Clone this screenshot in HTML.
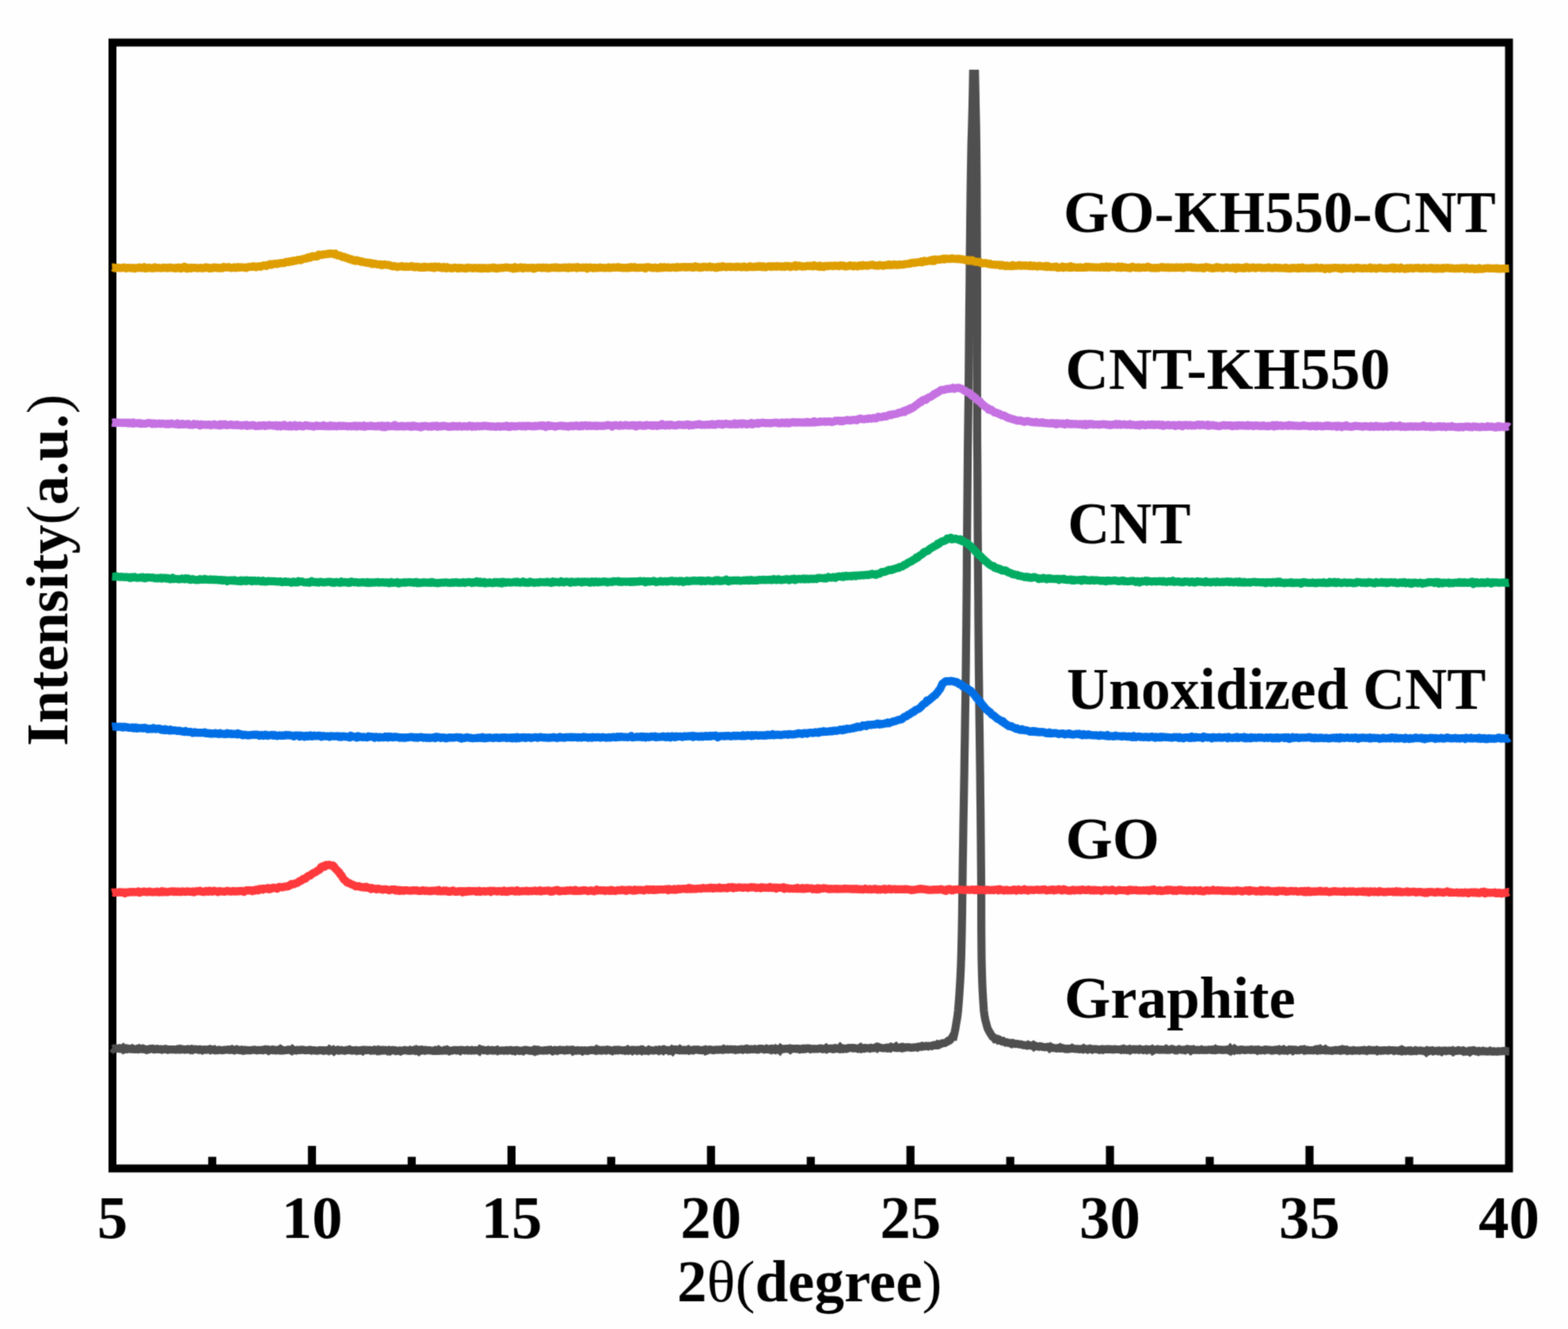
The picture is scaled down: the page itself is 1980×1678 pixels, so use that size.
<!DOCTYPE html>
<html><head><meta charset="utf-8"><title>XRD patterns</title>
<style>
html,body{margin:0;padding:0;background:#fefefe;}
body{width:1980px;height:1678px;overflow:hidden;}
svg{display:block;}
text{font-family:"Liberation Serif","Times New Roman",serif;font-weight:bold;fill:#000;}
.r{font-weight:normal;}
</style></head>
<body>
<svg width="1980" height="1678" viewBox="0 0 1980 1678">
<defs><filter id="sf" x="0" y="0" width="1980" height="1678" filterUnits="userSpaceOnUse" color-interpolation-filters="sRGB"><feConvolveMatrix order="3" kernelMatrix="0.0361 0.1178 0.0361 0.1178 0.3846 0.1178 0.0361 0.1178 0.0361" divisor="1" edgeMode="duplicate" preserveAlpha="true"/></filter></defs>
<g filter="url(#sf)">
<rect x="0" y="0" width="1980" height="1678" fill="#fefefe"/>
<rect x="142" y="53.7" width="1763.5" height="1421.6" fill="none" stroke="#000" stroke-width="10"/>
<g fill="none" stroke-width="10.2" stroke-linejoin="round" stroke-linecap="butt">
<path d="M141.5 1323.3L143.0 1324.5L144.5 1323.6L146.0 1323.8L147.5 1324.0L149.0 1323.7L150.5 1323.4L152.0 1324.3L153.5 1324.2L155.0 1323.2L156.5 1325.2L158.0 1324.6L159.5 1323.8L161.0 1324.6L162.5 1324.0L164.0 1324.2L165.5 1324.6L167.0 1323.7L168.5 1324.6L170.0 1324.9L171.5 1324.9L173.0 1324.2L174.5 1324.8L176.0 1323.7L177.5 1324.4L179.0 1324.7L180.5 1323.9L182.0 1324.5L183.5 1325.3L185.0 1325.7L186.5 1324.9L188.0 1325.0L189.5 1324.2L191.0 1324.1L192.5 1324.0L194.0 1324.9L195.5 1325.0L197.0 1324.4L198.5 1324.2L200.0 1324.9L201.5 1324.9L203.0 1324.7L204.5 1325.4L206.0 1324.8L207.5 1324.8L209.0 1324.4L210.5 1324.9L212.0 1325.5L213.5 1325.0L215.0 1325.0L216.5 1325.2L218.0 1325.1L219.5 1325.2L221.0 1325.3L222.5 1325.3L224.0 1324.7L225.5 1325.2L227.0 1324.4L228.5 1325.2L230.0 1324.6L231.5 1325.1L233.0 1325.4L234.5 1325.0L236.0 1325.2L237.5 1324.5L239.0 1324.8L240.5 1325.6L242.0 1324.7L243.5 1325.6L245.0 1324.7L246.5 1324.9L248.0 1324.8L249.5 1325.3L251.0 1325.6L252.5 1324.9L254.0 1325.3L255.5 1326.1L257.0 1325.3L258.5 1325.1L260.0 1325.6L261.5 1325.4L263.0 1325.1L264.5 1324.7L266.0 1325.9L267.5 1325.2L269.0 1325.5L270.5 1325.0L272.0 1326.1L273.5 1325.9L275.0 1326.0L276.5 1325.5L278.0 1325.8L279.5 1326.0L281.0 1326.1L282.5 1325.8L284.0 1325.6L285.5 1325.5L287.0 1325.3L288.5 1325.2L290.0 1325.8L291.5 1325.6L293.0 1324.8L294.5 1325.6L296.0 1326.2L297.5 1325.6L299.0 1324.9L300.5 1325.6L302.0 1326.1L303.5 1325.8L305.0 1325.5L306.5 1326.6L308.0 1326.6L309.5 1325.7L311.0 1326.1L312.5 1325.9L314.0 1326.1L315.5 1326.4L317.0 1326.1L318.5 1325.8L320.0 1325.5L321.5 1325.4L323.0 1325.8L324.5 1326.3L326.0 1325.9L327.5 1325.8L329.0 1325.9L330.5 1325.8L332.0 1326.1L333.5 1325.3L335.0 1324.9L336.5 1325.6L338.0 1325.3L339.5 1326.6L341.0 1325.8L342.5 1325.7L344.0 1325.2L345.5 1326.0L347.0 1325.6L348.5 1326.4L350.0 1326.3L351.5 1325.5L353.0 1326.1L354.5 1324.7L356.0 1325.6L357.5 1326.5L359.0 1326.3L360.5 1326.0L362.0 1325.9L363.5 1325.3L365.0 1325.3L366.5 1326.0L368.0 1326.7L369.5 1325.0L371.0 1326.2L372.5 1326.2L374.0 1326.4L375.5 1325.6L377.0 1325.7L378.5 1326.0L380.0 1325.5L381.5 1325.4L383.0 1325.6L384.5 1326.0L386.0 1326.2L387.5 1326.0L389.0 1326.0L390.5 1325.7L392.0 1325.7L393.5 1326.5L395.0 1326.0L396.5 1326.0L398.0 1326.4L399.5 1326.6L401.0 1326.6L402.5 1326.2L404.0 1326.0L405.5 1326.2L407.0 1326.1L408.5 1326.7L410.0 1326.2L411.5 1326.4L413.0 1326.1L414.5 1326.7L416.0 1325.2L417.5 1326.3L419.0 1326.4L420.5 1325.6L422.0 1327.1L423.5 1326.0L425.0 1326.0L426.5 1325.6L428.0 1326.5L429.5 1326.2L431.0 1325.8L432.5 1326.2L434.0 1326.4L435.5 1326.7L437.0 1326.2L438.5 1325.7L440.0 1325.9L441.5 1325.1L443.0 1325.8L444.5 1326.5L446.0 1326.4L447.5 1326.1L449.0 1326.0L450.5 1326.9L452.0 1326.3L453.5 1326.6L455.0 1326.3L456.5 1325.9L458.0 1326.9L459.5 1325.6L461.0 1325.6L462.5 1326.0L464.0 1325.9L465.5 1325.9L467.0 1325.9L468.5 1326.6L470.0 1326.2L471.5 1326.4L473.0 1325.5L474.5 1325.8L476.0 1326.7L477.5 1325.7L479.0 1326.7L480.5 1325.8L482.0 1326.4L483.5 1325.8L485.0 1326.3L486.5 1325.8L488.0 1326.1L489.5 1327.0L491.0 1326.1L492.5 1327.1L494.0 1326.0L495.5 1325.7L497.0 1326.3L498.5 1326.1L500.0 1327.0L501.5 1326.6L503.0 1326.8L504.5 1326.5L506.0 1327.4L507.5 1326.6L509.0 1326.5L510.5 1325.9L512.0 1325.8L513.5 1326.3L515.0 1326.7L516.5 1326.8L518.0 1325.8L519.5 1326.5L521.0 1326.4L522.5 1325.8L524.0 1326.5L525.5 1325.3L527.0 1326.4L528.5 1327.4L530.0 1325.8L531.5 1326.3L533.0 1325.4L534.5 1325.9L536.0 1326.6L537.5 1325.8L539.0 1326.3L540.5 1326.1L542.0 1326.1L543.5 1326.4L545.0 1326.5L546.5 1326.8L548.0 1326.7L549.5 1326.0L551.0 1326.9L552.5 1326.9L554.0 1325.6L555.5 1326.6L557.0 1326.7L558.5 1326.7L560.0 1326.5L561.5 1325.7L563.0 1326.2L564.5 1325.4L566.0 1326.2L567.5 1327.2L569.0 1326.6L570.5 1326.7L572.0 1326.1L573.5 1325.8L575.0 1325.8L576.5 1326.4L578.0 1325.9L579.5 1326.0L581.0 1326.8L582.5 1325.6L584.0 1325.7L585.5 1326.1L587.0 1326.3L588.5 1326.2L590.0 1325.7L591.5 1326.4L593.0 1326.2L594.5 1326.5L596.0 1325.8L597.5 1326.4L599.0 1326.4L600.5 1326.0L602.0 1326.2L603.5 1326.0L605.0 1326.9L606.5 1324.9L608.0 1325.6L609.5 1325.5L611.0 1326.1L612.5 1326.0L614.0 1326.1L615.5 1326.6L617.0 1325.6L618.5 1325.9L620.0 1326.2L621.5 1325.8L623.0 1326.5L624.5 1326.4L626.0 1326.0L627.5 1325.5L629.0 1327.0L630.5 1326.5L632.0 1326.5L633.5 1326.3L635.0 1326.3L636.5 1326.7L638.0 1326.3L639.5 1326.0L641.0 1326.6L642.5 1326.3L644.0 1325.9L645.5 1325.9L647.0 1326.8L648.5 1326.6L650.0 1327.2L651.5 1326.0L653.0 1325.9L654.5 1326.5L656.0 1326.9L657.5 1326.5L659.0 1326.5L660.5 1327.1L662.0 1325.9L663.5 1325.7L665.0 1325.9L666.5 1326.1L668.0 1326.4L669.5 1326.7L671.0 1326.4L672.5 1326.9L674.0 1325.9L675.5 1327.1L677.0 1325.9L678.5 1326.8L680.0 1325.8L681.5 1326.4L683.0 1326.3L684.5 1326.5L686.0 1326.6L687.5 1326.2L689.0 1326.2L690.5 1326.4L692.0 1325.7L693.5 1325.9L695.0 1325.5L696.5 1326.2L698.0 1327.2L699.5 1326.6L701.0 1325.8L702.5 1325.9L704.0 1326.7L705.5 1326.0L707.0 1325.5L708.5 1325.8L710.0 1325.8L711.5 1325.8L713.0 1326.5L714.5 1326.3L716.0 1325.5L717.5 1326.0L719.0 1325.7L720.5 1325.7L722.0 1325.5L723.5 1327.0L725.0 1326.1L726.5 1326.5L728.0 1326.6L729.5 1326.0L731.0 1326.4L732.5 1326.4L734.0 1326.3L735.5 1327.2L737.0 1326.3L738.5 1326.1L740.0 1326.5L741.5 1327.0L743.0 1326.6L744.5 1326.0L746.0 1325.8L747.5 1325.8L749.0 1325.9L750.5 1326.3L752.0 1326.6L753.5 1325.1L755.0 1326.2L756.5 1325.7L758.0 1326.5L759.5 1326.6L761.0 1325.8L762.5 1326.0L764.0 1325.7L765.5 1326.3L767.0 1325.4L768.5 1325.6L770.0 1325.8L771.5 1326.7L773.0 1327.2L774.5 1326.1L776.0 1325.6L777.5 1326.2L779.0 1325.7L780.5 1326.3L782.0 1325.6L783.5 1326.0L785.0 1326.1L786.5 1326.4L788.0 1326.1L789.5 1326.7L791.0 1326.2L792.5 1325.3L794.0 1326.5L795.5 1326.0L797.0 1325.8L798.5 1326.8L800.0 1325.7L801.5 1326.1L803.0 1325.8L804.5 1326.7L806.0 1325.9L807.5 1326.2L809.0 1325.5L810.5 1326.7L812.0 1325.6L813.5 1326.5L815.0 1326.6L816.5 1326.6L818.0 1326.9L819.5 1325.5L821.0 1326.2L822.5 1326.1L824.0 1326.2L825.5 1326.5L827.0 1326.1L828.5 1325.6L830.0 1326.0L831.5 1326.7L833.0 1325.5L834.5 1326.0L836.0 1325.5L837.5 1326.5L839.0 1325.2L840.5 1325.8L842.0 1325.9L843.5 1326.0L845.0 1327.0L846.5 1326.6L848.0 1325.4L849.5 1326.9L851.0 1325.3L852.5 1325.0L854.0 1325.2L855.5 1325.9L857.0 1326.1L858.5 1324.8L860.0 1326.0L861.5 1325.7L863.0 1326.1L864.5 1325.6L866.0 1326.2L867.5 1326.0L869.0 1325.2L870.5 1326.4L872.0 1325.8L873.5 1326.0L875.0 1326.3L876.5 1325.3L878.0 1325.6L879.5 1325.3L881.0 1325.2L882.5 1325.8L884.0 1325.8L885.5 1326.2L887.0 1326.2L888.5 1325.6L890.0 1325.2L891.5 1327.0L893.0 1326.5L894.5 1325.5L896.0 1325.1L897.5 1325.3L899.0 1325.6L900.5 1326.0L902.0 1325.9L903.5 1325.6L905.0 1325.3L906.5 1325.5L908.0 1325.3L909.5 1325.4L911.0 1325.3L912.5 1325.6L914.0 1324.5L915.5 1325.2L917.0 1325.2L918.5 1324.8L920.0 1325.2L921.5 1324.8L923.0 1324.9L924.5 1325.1L926.0 1325.1L927.5 1324.9L929.0 1325.7L930.5 1325.3L932.0 1325.3L933.5 1325.2L935.0 1324.8L936.5 1324.7L938.0 1325.5L939.5 1324.9L941.0 1324.3L942.5 1324.0L944.0 1325.1L945.5 1324.7L947.0 1325.0L948.5 1324.7L950.0 1324.8L951.5 1324.9L953.0 1324.4L954.5 1324.9L956.0 1325.3L957.5 1325.2L959.0 1324.1L960.5 1324.2L962.0 1324.2L963.5 1324.7L965.0 1325.2L966.5 1324.9L968.0 1324.0L969.5 1324.8L971.0 1325.1L972.5 1324.5L974.0 1325.5L975.5 1324.4L977.0 1325.2L978.5 1325.7L980.0 1324.0L981.5 1324.5L983.0 1324.8L984.5 1326.0L986.0 1323.8L987.5 1324.8L989.0 1324.7L990.5 1324.3L992.0 1324.1L993.5 1324.2L995.0 1324.3L996.5 1323.9L998.0 1325.1L999.5 1323.9L1001.0 1324.2L1002.5 1324.1L1004.0 1324.2L1005.5 1324.4L1007.0 1324.0L1008.5 1324.2L1010.0 1325.1L1011.5 1324.8L1013.0 1324.1L1014.5 1324.7L1016.0 1323.9L1017.5 1324.3L1019.0 1323.6L1020.5 1323.7L1022.0 1323.8L1023.5 1324.7L1025.0 1324.3L1026.5 1324.4L1028.0 1324.2L1029.5 1324.3L1031.0 1324.3L1032.5 1324.4L1034.0 1324.1L1035.5 1323.6L1037.0 1323.7L1038.5 1324.6L1040.0 1324.6L1041.5 1324.2L1043.0 1323.2L1044.5 1324.7L1046.0 1324.1L1047.5 1323.9L1049.0 1323.9L1050.5 1323.7L1052.0 1324.7L1053.5 1324.6L1055.0 1323.4L1056.5 1323.8L1058.0 1324.0L1059.5 1324.4L1061.0 1322.7L1062.5 1324.2L1064.0 1324.5L1065.5 1323.6L1067.0 1323.7L1068.5 1324.3L1070.0 1323.9L1071.5 1323.1L1073.0 1323.1L1074.5 1323.2L1076.0 1323.0L1077.5 1323.6L1079.0 1323.3L1080.5 1323.6L1082.0 1323.9L1083.5 1324.3L1085.0 1323.6L1086.5 1322.6L1088.0 1324.1L1089.5 1323.4L1091.0 1323.9L1092.5 1323.2L1094.0 1323.5L1095.5 1323.3L1097.0 1323.3L1098.5 1323.9L1100.0 1323.0L1101.5 1323.3L1103.0 1323.3L1104.5 1323.0L1106.0 1322.2L1107.5 1323.3L1109.0 1321.9L1110.5 1322.5L1112.0 1322.9L1113.5 1323.3L1115.0 1323.4L1116.5 1323.4L1118.0 1323.3L1119.5 1322.8L1121.0 1323.5L1122.5 1322.8L1124.0 1323.4L1125.5 1321.9L1127.0 1322.4L1128.5 1322.5L1130.0 1322.8L1131.5 1321.6L1133.0 1323.1L1134.5 1323.1L1136.0 1323.0L1137.5 1322.3L1139.0 1323.2L1140.5 1322.2L1142.0 1322.9L1143.5 1322.4L1145.0 1322.4L1146.5 1322.2L1148.0 1322.3L1149.5 1322.7L1151.0 1322.8L1152.5 1322.7L1154.0 1322.4L1155.5 1322.3L1157.0 1322.1L1158.5 1322.6L1160.0 1321.5L1161.5 1321.4L1163.0 1321.6L1164.5 1320.7L1166.0 1321.3L1167.5 1321.2L1169.0 1320.7L1170.5 1320.7L1172.0 1321.2L1173.5 1320.6L1175.0 1320.6L1176.5 1320.9L1178.0 1320.0L1179.5 1319.5L1181.0 1319.8L1182.5 1319.8L1184.0 1318.5L1185.5 1319.2L1187.0 1318.4L1188.5 1317.9L1190.0 1317.2L1191.5 1317.0L1193.0 1316.9L1194.5 1316.1L1196.0 1315.5L1197.5 1314.0L1199.0 1313.7L1200.5 1312.3L1202.0 1310.4L1203.5 1307.7L1204.4 1308.0L1204.9 1305.8L1205.4 1303.7L1205.8 1301.5L1206.3 1299.4L1206.7 1297.2L1207.0 1295.0L1207.4 1292.9L1207.8 1290.7L1208.1 1288.6L1208.5 1286.4L1208.8 1284.2L1209.1 1282.1L1209.4 1279.9L1209.6 1277.8L1209.9 1275.6L1210.0 1273.4L1210.2 1271.3L1210.4 1269.1L1210.6 1267.0L1210.7 1264.8L1210.9 1262.6L1211.1 1260.5L1211.2 1258.3L1211.4 1256.2L1211.5 1254.0L1211.7 1251.8L1211.8 1249.7L1211.9 1247.5L1212.1 1245.4L1212.2 1243.2L1212.3 1241.0L1212.5 1238.9L1212.6 1236.7L1212.7 1234.6L1212.8 1232.4L1212.9 1230.2L1213.0 1228.1L1213.1 1225.9L1213.2 1223.8L1213.3 1221.6L1213.4 1219.4L1213.5 1217.3L1213.5 1215.1L1213.6 1213.0L1213.7 1210.8L1213.8 1208.6L1213.8 1206.5L1213.9 1204.3L1213.9 1202.2L1214.0 1200.0L1214.5 1177.4L1214.9 1154.8L1215.2 1132.2L1215.5 1109.6L1215.8 1087.0L1216.2 1064.4L1216.5 1041.9L1216.9 1019.3L1217.3 996.7L1217.7 974.1L1218.0 951.5L1218.4 928.9L1218.7 906.3L1219.1 883.7L1219.4 861.1L1219.7 838.5L1219.9 815.9L1220.2 793.3L1220.4 770.8L1220.6 748.2L1220.8 725.6L1220.9 703.0L1221.1 680.4L1221.3 657.8L1221.5 635.2L1221.7 612.6L1221.9 590.0L1222.1 567.4L1222.4 544.8L1222.7 522.2L1223.0 499.7L1223.2 477.1L1223.4 454.5L1223.6 431.9L1223.8 409.3L1224.0 386.7L1224.3 364.1L1224.5 341.5L1224.7 318.9L1225.0 296.3L1225.2 273.7L1225.5 251.1L1225.8 228.6L1226.2 206.0L1226.6 183.4L1227.3 160.8L1227.9 138.2L1228.4 115.6L1228.8 93.0L1231.2 93.0L1231.7 115.1L1232.1 137.3L1232.6 159.4L1232.9 181.6L1233.1 203.7L1233.3 225.8L1233.4 248.0L1233.5 270.1L1233.6 292.3L1233.7 314.4L1233.8 336.5L1233.9 358.7L1233.9 380.8L1233.9 403.0L1233.9 425.1L1233.8 447.2L1233.8 469.4L1233.8 491.5L1233.9 513.7L1233.9 535.8L1234.0 557.9L1234.2 580.1L1234.3 602.2L1234.4 624.4L1234.5 646.5L1234.6 668.6L1234.8 690.8L1234.9 712.9L1235.1 735.1L1235.3 757.2L1235.4 779.3L1235.6 801.5L1235.8 823.6L1236.0 845.8L1236.3 867.9L1236.5 890.0L1236.8 912.2L1237.1 934.3L1237.4 956.5L1237.7 978.6L1237.9 1000.7L1238.2 1022.9L1238.4 1045.0L1238.6 1067.2L1238.8 1089.3L1239.0 1111.4L1239.1 1133.6L1239.1 1155.7L1239.2 1177.9L1239.4 1200.0L1239.4 1202.2L1239.4 1204.4L1239.5 1206.7L1239.5 1208.9L1239.5 1211.1L1239.6 1213.3L1239.6 1215.6L1239.7 1217.8L1239.7 1220.0L1239.8 1222.2L1239.8 1224.5L1239.9 1226.7L1240.0 1228.9L1240.0 1231.1L1240.1 1233.4L1240.2 1235.6L1240.2 1237.8L1240.3 1240.0L1240.4 1242.3L1240.5 1244.5L1240.6 1246.7L1240.7 1248.9L1240.8 1251.2L1240.9 1253.4L1241.1 1255.6L1241.2 1257.8L1241.3 1260.1L1241.4 1262.3L1241.6 1264.5L1241.7 1266.7L1241.9 1269.0L1242.0 1271.2L1242.2 1273.4L1242.3 1275.6L1242.6 1277.9L1242.9 1280.1L1243.2 1282.3L1243.6 1284.5L1244.0 1286.8L1244.5 1289.0L1245.1 1291.2L1245.7 1293.4L1246.3 1295.7L1247.0 1297.9L1247.9 1300.1L1249.1 1302.3L1250.4 1304.6L1251.8 1306.8L1253.3 1309.0L1254.8 1309.8L1256.3 1311.8L1257.8 1311.3L1259.3 1311.6L1260.8 1313.5L1262.3 1313.1L1263.8 1314.2L1265.3 1314.9L1266.8 1314.4L1268.3 1315.5L1269.8 1316.3L1271.3 1316.0L1272.8 1316.7L1274.3 1316.7L1275.8 1317.4L1277.3 1318.1L1278.8 1317.0L1280.3 1317.6L1281.8 1318.1L1283.3 1317.8L1284.8 1318.0L1286.3 1318.4L1287.8 1318.6L1289.3 1318.6L1290.8 1319.2L1292.3 1319.6L1293.8 1319.7L1295.3 1319.8L1296.8 1320.2L1298.3 1319.2L1299.8 1319.9L1301.3 1320.2L1302.8 1320.5L1304.3 1319.7L1305.8 1321.4L1307.3 1320.3L1308.8 1321.0L1310.3 1321.4L1311.8 1321.7L1313.3 1321.0L1314.8 1321.2L1316.3 1321.8L1317.8 1322.0L1319.3 1322.3L1320.8 1322.0L1322.3 1321.9L1323.8 1321.7L1325.3 1323.2L1326.8 1321.9L1328.3 1323.0L1329.8 1322.9L1331.3 1323.3L1332.8 1323.5L1334.3 1323.8L1335.8 1323.3L1337.3 1323.6L1338.8 1322.6L1340.3 1323.6L1341.8 1323.3L1343.3 1323.7L1344.8 1324.4L1346.3 1324.0L1347.8 1324.5L1349.3 1324.0L1350.8 1324.3L1352.3 1324.0L1353.8 1323.1L1355.3 1324.0L1356.8 1324.2L1358.3 1324.4L1359.8 1324.4L1361.3 1324.4L1362.8 1324.9L1364.3 1324.7L1365.8 1324.3L1367.3 1324.9L1368.8 1323.6L1370.3 1324.4L1371.8 1324.5L1373.3 1325.2L1374.8 1324.4L1376.3 1324.0L1377.8 1324.7L1379.3 1325.4L1380.8 1324.6L1382.3 1324.6L1383.8 1324.6L1385.3 1324.7L1386.8 1325.3L1388.3 1325.6L1389.8 1325.0L1391.3 1324.7L1392.8 1325.6L1394.3 1324.9L1395.8 1324.9L1397.3 1324.7L1398.8 1324.7L1400.3 1325.0L1401.8 1324.7L1403.3 1325.1L1404.8 1324.9L1406.3 1325.2L1407.8 1324.7L1409.3 1324.8L1410.8 1325.0L1412.3 1325.0L1413.8 1325.0L1415.3 1325.5L1416.8 1324.5L1418.3 1324.1L1419.8 1325.3L1421.3 1324.9L1422.8 1325.6L1424.3 1325.0L1425.8 1324.5L1427.3 1326.0L1428.8 1325.2L1430.3 1324.9L1431.8 1324.7L1433.3 1325.3L1434.8 1324.8L1436.3 1325.3L1437.8 1325.6L1439.3 1324.5L1440.8 1324.9L1442.3 1325.3L1443.8 1325.9L1445.3 1325.5L1446.8 1324.9L1448.3 1325.8L1449.8 1325.0L1451.3 1325.1L1452.8 1325.3L1454.3 1324.7L1455.8 1326.6L1457.3 1325.7L1458.8 1325.3L1460.3 1325.0L1461.8 1324.7L1463.3 1325.4L1464.8 1325.5L1466.3 1325.1L1467.8 1325.2L1469.3 1325.5L1470.8 1325.2L1472.3 1324.4L1473.8 1325.6L1475.3 1325.4L1476.8 1325.6L1478.3 1325.0L1479.8 1324.3L1481.3 1324.7L1482.8 1325.5L1484.3 1326.3L1485.8 1326.4L1487.3 1325.5L1488.8 1324.7L1490.3 1325.2L1491.8 1325.6L1493.3 1325.6L1494.8 1325.4L1496.3 1326.0L1497.8 1325.0L1499.3 1324.4L1500.8 1325.0L1502.3 1324.9L1503.8 1326.4L1505.3 1325.3L1506.8 1324.8L1508.3 1325.7L1509.8 1325.9L1511.3 1325.5L1512.8 1325.5L1514.3 1325.9L1515.8 1325.7L1517.3 1325.1L1518.8 1325.7L1520.3 1325.9L1521.8 1325.6L1523.3 1325.9L1524.8 1325.8L1526.3 1325.4L1527.8 1325.4L1529.3 1325.8L1530.8 1325.3L1532.3 1326.0L1533.8 1326.1L1535.3 1324.6L1536.8 1325.5L1538.3 1325.2L1539.8 1325.3L1541.3 1325.6L1542.8 1325.5L1544.3 1325.8L1545.8 1325.7L1547.3 1325.7L1548.8 1325.2L1550.3 1325.4L1551.8 1326.2L1553.3 1324.5L1554.8 1326.4L1556.3 1325.3L1557.8 1326.1L1559.3 1324.4L1560.8 1325.4L1562.3 1326.0L1563.8 1325.7L1565.3 1326.1L1566.8 1325.2L1568.3 1325.4L1569.8 1325.3L1571.3 1325.9L1572.8 1325.9L1574.3 1325.6L1575.8 1325.5L1577.3 1325.5L1578.8 1325.7L1580.3 1325.2L1581.8 1325.7L1583.3 1325.6L1584.8 1325.4L1586.3 1325.4L1587.8 1326.4L1589.3 1325.4L1590.8 1325.9L1592.3 1326.3L1593.8 1326.1L1595.3 1325.7L1596.8 1326.2L1598.3 1325.1L1599.8 1325.2L1601.3 1325.6L1602.8 1325.6L1604.3 1325.7L1605.8 1326.6L1607.3 1326.5L1608.8 1325.7L1610.3 1325.9L1611.8 1325.4L1613.3 1325.9L1614.8 1325.2L1616.3 1326.4L1617.8 1325.6L1619.3 1326.0L1620.8 1325.2L1622.3 1326.4L1623.8 1326.1L1625.3 1326.7L1626.8 1325.9L1628.3 1325.1L1629.8 1325.5L1631.3 1325.3L1632.8 1326.6L1634.3 1325.6L1635.8 1325.5L1637.3 1326.1L1638.8 1326.0L1640.3 1326.1L1641.8 1325.6L1643.3 1325.0L1644.8 1325.3L1646.3 1324.9L1647.8 1326.5L1649.3 1326.3L1650.8 1325.7L1652.3 1326.2L1653.8 1326.2L1655.3 1326.2L1656.8 1326.2L1658.3 1326.3L1659.8 1326.0L1661.3 1324.9L1662.8 1324.7L1664.3 1326.5L1665.8 1326.2L1667.3 1324.8L1668.8 1326.0L1670.3 1325.6L1671.8 1325.7L1673.3 1324.8L1674.8 1326.3L1676.3 1326.0L1677.8 1326.4L1679.3 1326.5L1680.8 1326.6L1682.3 1326.8L1683.8 1326.2L1685.3 1326.1L1686.8 1325.8L1688.3 1326.3L1689.8 1325.9L1691.3 1325.5L1692.8 1326.6L1694.3 1326.4L1695.8 1324.9L1697.3 1325.2L1698.8 1326.0L1700.3 1325.5L1701.8 1326.7L1703.3 1326.2L1704.8 1326.4L1706.3 1326.6L1707.8 1326.7L1709.3 1326.0L1710.8 1326.4L1712.3 1326.3L1713.8 1326.5L1715.3 1326.4L1716.8 1326.8L1718.3 1326.4L1719.8 1326.0L1721.3 1326.3L1722.8 1325.7L1724.3 1326.4L1725.8 1326.9L1727.3 1326.0L1728.8 1325.5L1730.3 1326.2L1731.8 1326.0L1733.3 1326.3L1734.8 1326.0L1736.3 1326.3L1737.8 1325.8L1739.3 1327.0L1740.8 1326.2L1742.3 1326.5L1743.8 1326.7L1745.3 1326.3L1746.8 1326.5L1748.3 1326.2L1749.8 1326.2L1751.3 1326.3L1752.8 1326.6L1754.3 1325.8L1755.8 1326.0L1757.3 1326.0L1758.8 1326.1L1760.3 1326.9L1761.8 1326.4L1763.3 1326.3L1764.8 1326.5L1766.3 1326.9L1767.8 1326.1L1769.3 1326.9L1770.8 1325.4L1772.3 1326.1L1773.8 1327.2L1775.3 1327.2L1776.8 1326.6L1778.3 1326.3L1779.8 1326.9L1781.3 1326.3L1782.8 1327.2L1784.3 1327.1L1785.8 1326.9L1787.3 1326.2L1788.8 1327.0L1790.3 1326.5L1791.8 1326.5L1793.3 1326.4L1794.8 1326.6L1796.3 1326.9L1797.8 1327.0L1799.3 1327.0L1800.8 1328.2L1802.3 1326.5L1803.8 1327.2L1805.3 1326.4L1806.8 1326.6L1808.3 1326.2L1809.8 1327.3L1811.3 1326.8L1812.8 1326.8L1814.3 1326.7L1815.8 1327.2L1817.3 1326.5L1818.8 1327.0L1820.3 1327.9L1821.8 1326.7L1823.3 1326.5L1824.8 1326.4L1826.3 1327.2L1827.8 1326.9L1829.3 1326.5L1830.8 1326.5L1832.3 1326.9L1833.8 1326.4L1835.3 1327.8L1836.8 1326.8L1838.3 1326.8L1839.8 1326.9L1841.3 1326.1L1842.8 1326.3L1844.3 1326.8L1845.8 1326.9L1847.3 1326.4L1848.8 1327.7L1850.3 1327.2L1851.8 1327.6L1853.3 1327.5L1854.8 1326.9L1856.3 1328.1L1857.8 1327.1L1859.3 1326.2L1860.8 1326.0L1862.3 1327.0L1863.8 1327.5L1865.3 1327.1L1866.8 1327.9L1868.3 1327.0L1869.8 1327.4L1871.3 1327.4L1872.8 1326.7L1874.3 1327.3L1875.8 1327.3L1877.3 1327.6L1878.8 1327.7L1880.3 1327.6L1881.8 1326.8L1883.3 1327.5L1884.8 1327.7L1886.3 1327.2L1887.8 1327.6L1889.3 1327.6L1890.8 1327.8L1892.3 1327.3L1893.8 1327.5L1895.3 1327.4L1896.8 1327.3L1898.3 1327.0L1899.8 1327.1L1901.3 1326.8L1902.8 1327.2L1904.3 1327.6L1905.8 1327.6" stroke="#4f4f4f" stroke-linejoin="miter"/>
<path d="M141.5 1127.1L143.0 1126.7L144.5 1127.3L146.0 1126.5L147.5 1127.0L149.0 1126.8L150.5 1126.3L152.0 1126.3L153.5 1126.9L155.0 1126.6L156.5 1126.7L158.0 1127.9L159.5 1126.8L161.0 1126.5L162.5 1126.8L164.0 1126.2L165.5 1126.3L167.0 1126.6L168.5 1126.0L170.0 1126.4L171.5 1126.3L173.0 1126.4L174.5 1125.5L176.0 1127.1L177.5 1126.2L179.0 1126.5L180.5 1125.8L182.0 1125.6L183.5 1126.2L185.0 1126.1L186.5 1126.5L188.0 1125.7L189.5 1125.7L191.0 1126.3L192.5 1126.4L194.0 1126.5L195.5 1126.1L197.0 1126.2L198.5 1125.7L200.0 1126.6L201.5 1126.5L203.0 1126.5L204.5 1125.3L206.0 1126.4L207.5 1125.6L209.0 1126.2L210.5 1126.1L212.0 1126.5L213.5 1125.8L215.0 1125.7L216.5 1125.4L218.0 1125.3L219.5 1126.1L221.0 1125.4L222.5 1126.1L224.0 1125.7L225.5 1125.6L227.0 1126.2L228.5 1126.2L230.0 1125.4L231.5 1125.7L233.0 1125.8L234.5 1126.1L236.0 1125.4L237.5 1125.6L239.0 1125.7L240.5 1126.0L242.0 1126.1L243.5 1125.5L245.0 1126.5L246.5 1125.9L248.0 1125.3L249.5 1125.0L251.0 1125.4L252.5 1124.6L254.0 1125.7L255.5 1125.9L257.0 1126.2L258.5 1125.8L260.0 1124.8L261.5 1125.5L263.0 1125.9L264.5 1124.6L266.0 1125.2L267.5 1125.8L269.0 1125.6L270.5 1124.6L272.0 1125.3L273.5 1125.5L275.0 1126.4L276.5 1125.3L278.0 1125.0L279.5 1125.5L281.0 1125.6L282.5 1125.6L284.0 1126.0L285.5 1125.3L287.0 1124.7L288.5 1125.3L290.0 1125.3L291.5 1125.7L293.0 1125.6L294.5 1124.9L296.0 1125.5L297.5 1125.6L299.0 1125.1L300.5 1125.5L302.0 1125.2L303.5 1125.1L305.0 1124.9L306.5 1125.3L308.0 1126.1L309.5 1124.8L311.0 1124.1L312.5 1124.4L314.0 1124.1L315.5 1124.4L317.0 1124.1L318.5 1125.2L320.0 1124.2L321.5 1124.6L323.0 1123.3L324.5 1123.3L326.0 1124.2L327.5 1122.4L329.0 1123.0L330.5 1122.1L332.0 1123.3L333.5 1121.9L335.0 1122.2L336.5 1122.1L338.0 1121.3L339.5 1123.0L341.0 1121.7L342.5 1122.3L344.0 1121.1L345.5 1120.6L347.0 1121.3L348.5 1121.1L350.0 1122.2L351.5 1120.2L353.0 1119.8L354.5 1120.0L356.0 1120.3L357.5 1120.2L359.0 1119.4L360.5 1119.3L362.0 1119.4L363.5 1119.2L365.0 1118.0L366.5 1117.9L368.0 1116.1L369.5 1116.3L371.0 1116.4L372.5 1115.6L374.0 1114.9L375.5 1115.0L377.0 1113.5L378.5 1112.3L380.0 1112.1L381.5 1111.2L383.0 1109.7L384.5 1109.8L386.0 1109.2L387.5 1107.3L389.0 1106.2L390.5 1105.7L392.0 1105.4L393.5 1103.7L395.0 1102.7L396.5 1101.9L398.0 1101.4L399.5 1100.5L401.0 1099.3L402.5 1098.7L404.0 1097.6L405.5 1094.7L407.0 1094.2L408.5 1093.3L410.0 1094.2L411.5 1092.1L413.0 1092.2L414.5 1092.4L416.0 1091.8L417.5 1092.5L419.0 1093.3L420.5 1092.7L422.0 1094.3L423.5 1096.9L425.0 1098.0L426.5 1099.9L428.0 1100.9L429.5 1103.8L431.0 1105.0L432.5 1107.7L434.0 1110.0L435.5 1111.4L437.0 1112.5L438.5 1114.5L440.0 1114.8L441.5 1115.2L443.0 1116.1L444.5 1117.0L446.0 1117.2L447.5 1118.0L449.0 1119.1L450.5 1118.8L452.0 1119.2L453.5 1118.9L455.0 1120.0L456.5 1119.9L458.0 1120.5L459.5 1119.9L461.0 1120.6L462.5 1119.7L464.0 1120.8L465.5 1120.9L467.0 1121.0L468.5 1122.4L470.0 1121.2L471.5 1122.0L473.0 1122.1L474.5 1122.6L476.0 1123.0L477.5 1121.9L479.0 1122.5L480.5 1122.5L482.0 1123.2L483.5 1123.4L485.0 1122.9L486.5 1122.9L488.0 1122.8L489.5 1123.5L491.0 1124.1L492.5 1123.6L494.0 1123.2L495.5 1123.2L497.0 1123.3L498.5 1122.9L500.0 1124.5L501.5 1123.8L503.0 1123.7L504.5 1124.9L506.0 1124.0L507.5 1124.7L509.0 1124.1L510.5 1124.6L512.0 1124.1L513.5 1124.0L515.0 1124.4L516.5 1124.5L518.0 1124.7L519.5 1124.4L521.0 1124.2L522.5 1124.2L524.0 1124.5L525.5 1124.2L527.0 1124.3L528.5 1124.8L530.0 1124.8L531.5 1124.8L533.0 1124.3L534.5 1124.0L536.0 1124.8L537.5 1124.8L539.0 1124.6L540.5 1124.9L542.0 1125.2L543.5 1124.8L545.0 1125.1L546.5 1124.5L548.0 1124.8L549.5 1124.6L551.0 1124.3L552.5 1125.2L554.0 1123.8L555.5 1125.1L557.0 1125.5L558.5 1125.3L560.0 1124.5L561.5 1125.3L563.0 1124.4L564.5 1124.8L566.0 1125.9L567.5 1125.3L569.0 1125.8L570.5 1124.8L572.0 1124.3L573.5 1124.9L575.0 1125.9L576.5 1125.7L578.0 1125.8L579.5 1125.2L581.0 1125.3L582.5 1125.2L584.0 1126.6L585.5 1125.3L587.0 1126.1L588.5 1125.2L590.0 1125.9L591.5 1124.8L593.0 1125.1L594.5 1125.5L596.0 1125.0L597.5 1125.1L599.0 1125.2L600.5 1125.0L602.0 1126.0L603.5 1125.8L605.0 1124.7L606.5 1126.1L608.0 1125.3L609.5 1125.3L611.0 1125.2L612.5 1125.7L614.0 1125.6L615.5 1125.0L617.0 1125.3L618.5 1124.7L620.0 1126.1L621.5 1124.9L623.0 1124.8L624.5 1124.9L626.0 1125.3L627.5 1125.6L629.0 1125.1L630.5 1125.2L632.0 1125.1L633.5 1125.8L635.0 1125.3L636.5 1124.4L638.0 1125.9L639.5 1125.3L641.0 1126.0L642.5 1124.9L644.0 1124.9L645.5 1125.1L647.0 1124.5L648.5 1125.0L650.0 1125.7L651.5 1125.4L653.0 1124.0L654.5 1125.7L656.0 1125.3L657.5 1125.5L659.0 1125.1L660.5 1125.2L662.0 1125.1L663.5 1125.1L665.0 1124.6L666.5 1125.5L668.0 1125.1L669.5 1125.2L671.0 1125.2L672.5 1124.9L674.0 1125.0L675.5 1124.4L677.0 1125.1L678.5 1125.1L680.0 1124.9L681.5 1124.2L683.0 1125.5L684.5 1124.9L686.0 1124.9L687.5 1124.8L689.0 1124.6L690.5 1124.7L692.0 1124.4L693.5 1124.6L695.0 1125.8L696.5 1125.4L698.0 1125.7L699.5 1124.6L701.0 1124.0L702.5 1124.2L704.0 1123.6L705.5 1125.3L707.0 1125.3L708.5 1124.8L710.0 1124.9L711.5 1124.9L713.0 1124.7L714.5 1125.0L716.0 1124.2L717.5 1124.5L719.0 1124.6L720.5 1123.9L722.0 1124.2L723.5 1124.8L725.0 1124.8L726.5 1123.5L728.0 1125.0L729.5 1124.7L731.0 1124.9L732.5 1124.5L734.0 1124.8L735.5 1124.0L737.0 1124.4L738.5 1124.0L740.0 1124.3L741.5 1125.0L743.0 1125.2L744.5 1124.5L746.0 1124.2L747.5 1124.8L749.0 1124.6L750.5 1125.3L752.0 1124.7L753.5 1123.3L755.0 1124.4L756.5 1124.2L758.0 1124.0L759.5 1124.4L761.0 1124.3L762.5 1124.1L764.0 1125.0L765.5 1124.4L767.0 1124.4L768.5 1124.3L770.0 1124.8L771.5 1123.7L773.0 1124.7L774.5 1124.1L776.0 1124.8L777.5 1124.8L779.0 1124.4L780.5 1123.9L782.0 1124.2L783.5 1124.2L785.0 1123.4L786.5 1123.9L788.0 1123.7L789.5 1124.6L791.0 1124.8L792.5 1123.7L794.0 1123.7L795.5 1123.4L797.0 1124.1L798.5 1124.3L800.0 1124.7L801.5 1123.3L803.0 1124.3L804.5 1123.8L806.0 1123.5L807.5 1123.7L809.0 1123.5L810.5 1124.0L812.0 1123.8L813.5 1124.3L815.0 1123.5L816.5 1122.8L818.0 1123.2L819.5 1123.8L821.0 1122.9L822.5 1123.2L824.0 1123.8L825.5 1122.9L827.0 1123.8L828.5 1123.6L830.0 1123.1L831.5 1123.3L833.0 1123.1L834.5 1123.1L836.0 1123.1L837.5 1123.2L839.0 1123.1L840.5 1122.8L842.0 1122.6L843.5 1123.9L845.0 1122.5L846.5 1122.9L848.0 1123.4L849.5 1123.3L851.0 1122.5L852.5 1123.7L854.0 1123.5L855.5 1122.5L857.0 1122.1L858.5 1122.9L860.0 1122.4L861.5 1122.4L863.0 1122.1L864.5 1122.1L866.0 1122.4L867.5 1122.7L869.0 1121.3L870.5 1121.1L872.0 1122.6L873.5 1121.7L875.0 1122.4L876.5 1122.1L878.0 1122.5L879.5 1122.3L881.0 1121.8L882.5 1121.8L884.0 1121.9L885.5 1122.1L887.0 1121.4L888.5 1121.0L890.0 1121.7L891.5 1121.6L893.0 1121.5L894.5 1121.1L896.0 1121.7L897.5 1120.6L899.0 1121.2L900.5 1121.9L902.0 1120.8L903.5 1121.5L905.0 1121.4L906.5 1121.4L908.0 1120.4L909.5 1121.6L911.0 1121.2L912.5 1121.3L914.0 1121.2L915.5 1121.0L917.0 1121.5L918.5 1121.6L920.0 1120.1L921.5 1120.5L923.0 1120.8L924.5 1119.9L926.0 1121.5L927.5 1120.4L929.0 1121.0L930.5 1120.8L932.0 1120.6L933.5 1120.3L935.0 1120.5L936.5 1120.7L938.0 1121.0L939.5 1120.6L941.0 1120.5L942.5 1120.5L944.0 1121.2L945.5 1120.8L947.0 1120.3L948.5 1120.1L950.0 1120.4L951.5 1120.2L953.0 1120.4L954.5 1121.2L956.0 1120.9L957.5 1120.8L959.0 1120.8L960.5 1121.5L962.0 1120.2L963.5 1120.9L965.0 1120.6L966.5 1120.8L968.0 1120.8L969.5 1120.7L971.0 1121.1L972.5 1119.9L974.0 1121.0L975.5 1121.2L977.0 1120.5L978.5 1120.6L980.0 1121.9L981.5 1120.7L983.0 1120.9L984.5 1120.8L986.0 1120.9L987.5 1120.9L989.0 1120.3L990.5 1122.4L992.0 1121.0L993.5 1121.5L995.0 1121.4L996.5 1122.1L998.0 1121.8L999.5 1122.0L1001.0 1122.1L1002.5 1122.0L1004.0 1121.6L1005.5 1122.1L1007.0 1121.0L1008.5 1122.1L1010.0 1122.1L1011.5 1121.9L1013.0 1121.2L1014.5 1122.4L1016.0 1121.6L1017.5 1122.2L1019.0 1121.1L1020.5 1121.8L1022.0 1121.6L1023.5 1121.6L1025.0 1121.7L1026.5 1122.8L1028.0 1122.0L1029.5 1122.2L1031.0 1123.0L1032.5 1121.4L1034.0 1122.8L1035.5 1121.9L1037.0 1121.8L1038.5 1121.9L1040.0 1121.3L1041.5 1121.5L1043.0 1121.7L1044.5 1121.9L1046.0 1122.5L1047.5 1122.7L1049.0 1122.1L1050.5 1122.4L1052.0 1122.5L1053.5 1122.2L1055.0 1122.4L1056.5 1122.1L1058.0 1122.6L1059.5 1122.3L1061.0 1122.4L1062.5 1122.5L1064.0 1122.5L1065.5 1122.1L1067.0 1121.8L1068.5 1122.4L1070.0 1122.2L1071.5 1122.2L1073.0 1122.4L1074.5 1122.2L1076.0 1122.7L1077.5 1122.7L1079.0 1122.1L1080.5 1122.7L1082.0 1122.2L1083.5 1122.9L1085.0 1122.9L1086.5 1122.6L1088.0 1123.0L1089.5 1123.1L1091.0 1122.9L1092.5 1121.9L1094.0 1122.7L1095.5 1122.8L1097.0 1123.1L1098.5 1122.3L1100.0 1123.1L1101.5 1122.9L1103.0 1122.9L1104.5 1122.2L1106.0 1122.4L1107.5 1123.3L1109.0 1123.2L1110.5 1122.8L1112.0 1123.3L1113.5 1123.0L1115.0 1122.7L1116.5 1122.2L1118.0 1123.3L1119.5 1122.8L1121.0 1123.0L1122.5 1122.1L1124.0 1122.7L1125.5 1123.1L1127.0 1122.8L1128.5 1122.6L1130.0 1122.5L1131.5 1123.1L1133.0 1122.8L1134.5 1122.9L1136.0 1122.9L1137.5 1122.7L1139.0 1122.9L1140.5 1122.8L1142.0 1123.1L1143.5 1122.5L1145.0 1122.6L1146.5 1123.1L1148.0 1123.0L1149.5 1123.2L1151.0 1124.0L1152.5 1123.5L1154.0 1123.6L1155.5 1123.3L1157.0 1123.1L1158.5 1122.8L1160.0 1122.4L1161.5 1122.6L1163.0 1122.2L1164.5 1122.7L1166.0 1122.5L1167.5 1122.8L1169.0 1123.2L1170.5 1123.1L1172.0 1123.6L1173.5 1123.7L1175.0 1123.7L1176.5 1123.7L1178.0 1123.4L1179.5 1123.1L1181.0 1123.5L1182.5 1123.2L1184.0 1123.2L1185.5 1123.5L1187.0 1122.8L1188.5 1122.6L1190.0 1123.5L1191.5 1124.1L1193.0 1123.9L1194.5 1125.0L1196.0 1122.8L1197.5 1123.1L1199.0 1122.4L1200.5 1123.0L1202.0 1124.3L1203.5 1124.1L1205.0 1123.0L1206.5 1123.3L1208.0 1123.1L1209.5 1122.8L1211.0 1123.3L1212.5 1123.3L1214.0 1123.5L1215.5 1123.6L1217.0 1123.8L1218.5 1124.1L1220.0 1123.5L1221.5 1123.4L1223.0 1123.5L1224.5 1123.7L1226.0 1123.5L1227.5 1123.1L1229.0 1123.3L1230.5 1123.9L1232.0 1123.1L1233.5 1123.9L1235.0 1122.9L1236.5 1123.8L1238.0 1123.8L1239.5 1123.5L1241.0 1123.6L1242.5 1123.5L1244.0 1124.3L1245.5 1123.4L1247.0 1123.3L1248.5 1123.8L1250.0 1124.1L1251.5 1123.8L1253.0 1123.5L1254.5 1124.1L1256.0 1123.3L1257.5 1123.3L1259.0 1123.1L1260.5 1124.2L1262.0 1122.6L1263.5 1123.1L1265.0 1123.8L1266.5 1123.8L1268.0 1124.4L1269.5 1123.8L1271.0 1123.4L1272.5 1124.3L1274.0 1124.1L1275.5 1124.2L1277.0 1124.2L1278.5 1123.9L1280.0 1123.0L1281.5 1123.2L1283.0 1124.6L1284.5 1123.7L1286.0 1122.9L1287.5 1123.7L1289.0 1124.1L1290.5 1123.9L1292.0 1123.7L1293.5 1122.7L1295.0 1123.8L1296.5 1123.7L1298.0 1124.5L1299.5 1123.7L1301.0 1123.7L1302.5 1123.5L1304.0 1123.7L1305.5 1123.9L1307.0 1123.5L1308.5 1123.4L1310.0 1123.2L1311.5 1123.8L1313.0 1123.6L1314.5 1123.6L1316.0 1123.1L1317.5 1123.4L1319.0 1122.9L1320.5 1124.2L1322.0 1124.3L1323.5 1124.0L1325.0 1123.7L1326.5 1124.0L1328.0 1123.1L1329.5 1123.2L1331.0 1124.3L1332.5 1123.4L1334.0 1123.8L1335.5 1123.5L1337.0 1122.7L1338.5 1123.5L1340.0 1124.2L1341.5 1124.4L1343.0 1122.7L1344.5 1123.1L1346.0 1123.6L1347.5 1124.3L1349.0 1124.4L1350.5 1124.6L1352.0 1124.6L1353.5 1123.7L1355.0 1123.4L1356.5 1124.3L1358.0 1123.8L1359.5 1123.9L1361.0 1123.7L1362.5 1123.7L1364.0 1124.3L1365.5 1123.4L1367.0 1123.1L1368.5 1123.6L1370.0 1124.0L1371.5 1123.8L1373.0 1123.9L1374.5 1123.0L1376.0 1123.5L1377.5 1124.4L1379.0 1123.9L1380.5 1123.6L1382.0 1124.4L1383.5 1123.7L1385.0 1124.3L1386.5 1124.0L1388.0 1124.1L1389.5 1124.4L1391.0 1125.0L1392.5 1124.5L1394.0 1123.6L1395.5 1123.5L1397.0 1123.8L1398.5 1123.9L1400.0 1124.3L1401.5 1124.0L1403.0 1124.1L1404.5 1123.2L1406.0 1124.0L1407.5 1124.2L1409.0 1124.8L1410.5 1124.4L1412.0 1124.1L1413.5 1123.5L1415.0 1124.0L1416.5 1124.0L1418.0 1124.0L1419.5 1124.1L1421.0 1124.3L1422.5 1124.2L1424.0 1125.0L1425.5 1123.6L1427.0 1123.4L1428.5 1124.2L1430.0 1123.5L1431.5 1124.0L1433.0 1124.0L1434.5 1123.7L1436.0 1124.4L1437.5 1124.4L1439.0 1124.2L1440.5 1124.4L1442.0 1124.5L1443.5 1124.0L1445.0 1124.4L1446.5 1124.2L1448.0 1124.1L1449.5 1123.9L1451.0 1124.9L1452.5 1124.3L1454.0 1123.5L1455.5 1124.4L1457.0 1123.0L1458.5 1124.3L1460.0 1124.5L1461.5 1124.8L1463.0 1124.3L1464.5 1123.9L1466.0 1125.1L1467.5 1124.7L1469.0 1124.8L1470.5 1124.1L1472.0 1124.5L1473.5 1123.4L1475.0 1124.4L1476.5 1123.3L1478.0 1123.8L1479.5 1123.6L1481.0 1124.8L1482.5 1124.7L1484.0 1124.0L1485.5 1124.8L1487.0 1124.3L1488.5 1123.4L1490.0 1124.1L1491.5 1123.5L1493.0 1124.4L1494.5 1124.5L1496.0 1124.0L1497.5 1124.7L1499.0 1124.8L1500.5 1124.0L1502.0 1124.6L1503.5 1124.3L1505.0 1124.3L1506.5 1125.1L1508.0 1124.1L1509.5 1124.2L1511.0 1124.4L1512.5 1124.7L1514.0 1124.8L1515.5 1124.0L1517.0 1125.1L1518.5 1125.3L1520.0 1125.4L1521.5 1124.6L1523.0 1124.3L1524.5 1124.0L1526.0 1124.7L1527.5 1124.5L1529.0 1124.5L1530.5 1124.3L1532.0 1123.5L1533.5 1124.4L1535.0 1124.5L1536.5 1124.4L1538.0 1123.9L1539.5 1124.5L1541.0 1124.5L1542.5 1124.1L1544.0 1124.9L1545.5 1124.6L1547.0 1124.7L1548.5 1124.8L1550.0 1124.5L1551.5 1124.6L1553.0 1124.9L1554.5 1125.0L1556.0 1125.1L1557.5 1124.6L1559.0 1125.1L1560.5 1125.2L1562.0 1124.1L1563.5 1124.6L1565.0 1124.7L1566.5 1124.8L1568.0 1125.6L1569.5 1125.3L1571.0 1124.7L1572.5 1124.7L1574.0 1124.2L1575.5 1124.4L1577.0 1125.4L1578.5 1124.1L1580.0 1125.1L1581.5 1124.5L1583.0 1124.7L1584.5 1124.8L1586.0 1125.7L1587.5 1125.1L1589.0 1125.1L1590.5 1125.4L1592.0 1123.9L1593.5 1125.8L1595.0 1124.2L1596.5 1124.6L1598.0 1125.3L1599.5 1124.4L1601.0 1124.2L1602.5 1125.5L1604.0 1124.9L1605.5 1125.5L1607.0 1125.3L1608.5 1125.0L1610.0 1125.8L1611.5 1125.0L1613.0 1126.0L1614.5 1124.7L1616.0 1124.7L1617.5 1124.8L1619.0 1125.2L1620.5 1124.6L1622.0 1124.8L1623.5 1125.8L1625.0 1125.3L1626.5 1125.7L1628.0 1125.4L1629.5 1124.9L1631.0 1124.9L1632.5 1125.3L1634.0 1125.3L1635.5 1125.0L1637.0 1125.0L1638.5 1125.9L1640.0 1125.7L1641.5 1125.4L1643.0 1125.1L1644.5 1125.1L1646.0 1126.2L1647.5 1125.1L1649.0 1126.4L1650.5 1125.1L1652.0 1124.7L1653.5 1126.3L1655.0 1125.3L1656.5 1126.1L1658.0 1125.6L1659.5 1125.3L1661.0 1125.9L1662.5 1125.3L1664.0 1125.6L1665.5 1125.4L1667.0 1124.7L1668.5 1125.7L1670.0 1125.3L1671.5 1125.4L1673.0 1125.7L1674.5 1124.9L1676.0 1125.8L1677.5 1125.8L1679.0 1126.4L1680.5 1125.9L1682.0 1125.7L1683.5 1125.3L1685.0 1125.6L1686.5 1125.0L1688.0 1125.8L1689.5 1125.5L1691.0 1125.5L1692.5 1125.7L1694.0 1125.9L1695.5 1125.8L1697.0 1125.1L1698.5 1126.3L1700.0 1125.7L1701.5 1125.9L1703.0 1125.7L1704.5 1125.3L1706.0 1125.9L1707.5 1125.6L1709.0 1125.4L1710.5 1125.8L1712.0 1126.1L1713.5 1126.1L1715.0 1125.9L1716.5 1125.5L1718.0 1125.7L1719.5 1125.8L1721.0 1125.2L1722.5 1126.2L1724.0 1125.9L1725.5 1125.3L1727.0 1126.5L1728.5 1126.8L1730.0 1125.3L1731.5 1125.8L1733.0 1125.5L1734.5 1126.3L1736.0 1125.3L1737.5 1126.2L1739.0 1126.1L1740.5 1126.5L1742.0 1125.1L1743.5 1125.7L1745.0 1125.9L1746.5 1126.4L1748.0 1126.1L1749.5 1126.4L1751.0 1126.3L1752.5 1125.7L1754.0 1126.0L1755.5 1125.9L1757.0 1126.0L1758.5 1125.7L1760.0 1126.5L1761.5 1126.3L1763.0 1125.3L1764.5 1126.5L1766.0 1125.9L1767.5 1125.5L1769.0 1126.7L1770.5 1126.2L1772.0 1126.4L1773.5 1126.2L1775.0 1126.2L1776.5 1125.4L1778.0 1126.6L1779.5 1125.9L1781.0 1126.3L1782.5 1126.2L1784.0 1125.9L1785.5 1125.7L1787.0 1126.3L1788.5 1126.9L1790.0 1126.0L1791.5 1126.1L1793.0 1126.4L1794.5 1126.1L1796.0 1127.0L1797.5 1126.6L1799.0 1127.5L1800.5 1126.5L1802.0 1127.4L1803.5 1126.2L1805.0 1126.6L1806.5 1126.0L1808.0 1126.3L1809.5 1126.4L1811.0 1126.8L1812.5 1127.1L1814.0 1126.4L1815.5 1125.9L1817.0 1126.6L1818.5 1126.5L1820.0 1126.4L1821.5 1127.0L1823.0 1127.1L1824.5 1126.3L1826.0 1126.3L1827.5 1125.5L1829.0 1126.4L1830.5 1127.1L1832.0 1126.3L1833.5 1127.1L1835.0 1127.0L1836.5 1127.0L1838.0 1127.0L1839.5 1126.7L1841.0 1127.2L1842.5 1127.3L1844.0 1127.0L1845.5 1126.8L1847.0 1127.4L1848.5 1127.5L1850.0 1126.6L1851.5 1127.2L1853.0 1126.9L1854.5 1127.9L1856.0 1126.8L1857.5 1126.6L1859.0 1126.5L1860.5 1127.4L1862.0 1126.5L1863.5 1127.3L1865.0 1126.7L1866.5 1127.6L1868.0 1127.7L1869.5 1127.5L1871.0 1126.2L1872.5 1126.4L1874.0 1125.8L1875.5 1128.2L1877.0 1126.8L1878.5 1126.9L1880.0 1127.1L1881.5 1127.4L1883.0 1127.0L1884.5 1127.2L1886.0 1127.1L1887.5 1126.6L1889.0 1128.0L1890.5 1128.0L1892.0 1127.2L1893.5 1127.2L1895.0 1128.1L1896.5 1128.3L1898.0 1127.3L1899.5 1127.5L1901.0 1127.1L1902.5 1127.4L1904.0 1126.2L1905.5 1126.3" stroke="#ff393c"/>
<path d="M141.5 917.4L143.0 917.2L144.5 917.5L146.0 917.5L147.5 917.8L149.0 917.7L150.5 917.6L152.0 917.9L153.5 917.5L155.0 918.5L156.5 917.5L158.0 917.8L159.5 918.5L161.0 918.0L162.5 918.7L164.0 919.0L165.5 918.8L167.0 918.3L168.5 919.5L170.0 918.9L171.5 918.3L173.0 919.8L174.5 919.0L176.0 919.3L177.5 919.5L179.0 919.0L180.5 919.7L182.0 918.9L183.5 919.1L185.0 919.4L186.5 920.7L188.0 920.1L189.5 920.4L191.0 919.8L192.5 920.4L194.0 919.3L195.5 920.2L197.0 920.6L198.5 920.3L200.0 919.8L201.5 920.0L203.0 921.2L204.5 921.6L206.0 920.9L207.5 922.0L209.0 920.8L210.5 921.8L212.0 921.8L213.5 922.3L215.0 921.2L216.5 922.5L218.0 922.3L219.5 922.0L221.0 922.3L222.5 922.6L224.0 922.9L225.5 922.6L227.0 922.7L228.5 923.3L230.0 923.4L231.5 923.8L233.0 924.1L234.5 923.0L236.0 923.9L237.5 924.2L239.0 924.2L240.5 923.9L242.0 924.8L243.5 925.4L245.0 924.6L246.5 924.4L248.0 925.2L249.5 925.0L251.0 925.1L252.5 925.3L254.0 925.0L255.5 925.3L257.0 925.1L258.5 924.6L260.0 926.0L261.5 925.8L263.0 925.7L264.5 926.4L266.0 925.8L267.5 926.4L269.0 926.4L270.5 925.9L272.0 925.6L273.5 926.4L275.0 926.4L276.5 926.8L278.0 925.7L279.5 926.4L281.0 926.6L282.5 926.8L284.0 926.7L285.5 926.9L287.0 925.7L288.5 926.7L290.0 926.6L291.5 926.2L293.0 927.0L294.5 926.9L296.0 926.6L297.5 926.5L299.0 927.3L300.5 926.1L302.0 927.2L303.5 926.8L305.0 927.4L306.5 928.3L308.0 927.9L309.5 927.5L311.0 928.2L312.5 928.4L314.0 928.1L315.5 928.5L317.0 927.8L318.5 928.0L320.0 927.7L321.5 927.6L323.0 927.9L324.5 927.5L326.0 927.9L327.5 929.0L329.0 928.3L330.5 927.9L332.0 928.8L333.5 928.8L335.0 927.6L336.5 927.9L338.0 929.0L339.5 928.3L341.0 928.4L342.5 928.1L344.0 927.8L345.5 928.9L347.0 928.0L348.5 928.7L350.0 929.3L351.5 928.7L353.0 928.4L354.5 928.8L356.0 928.8L357.5 928.4L359.0 928.8L360.5 928.1L362.0 927.9L363.5 928.5L365.0 928.0L366.5 928.5L368.0 928.8L369.5 928.9L371.0 929.7L372.5 928.5L374.0 928.7L375.5 928.7L377.0 928.5L378.5 929.9L380.0 928.7L381.5 929.0L383.0 929.0L384.5 930.2L386.0 929.0L387.5 928.8L389.0 929.8L390.5 928.9L392.0 928.3L393.5 929.8L395.0 929.7L396.5 928.7L398.0 928.8L399.5 929.4L401.0 929.0L402.5 928.7L404.0 928.9L405.5 930.3L407.0 930.0L408.5 929.1L410.0 929.5L411.5 929.7L413.0 929.5L414.5 929.6L416.0 930.5L417.5 929.4L419.0 929.4L420.5 929.7L422.0 929.5L423.5 929.6L425.0 929.6L426.5 929.4L428.0 930.5L429.5 929.6L431.0 930.6L432.5 929.6L434.0 929.6L435.5 930.2L437.0 929.9L438.5 930.5L440.0 930.4L441.5 931.2L443.0 928.8L444.5 929.7L446.0 930.2L447.5 930.2L449.0 930.3L450.5 931.5L452.0 929.3L453.5 930.7L455.0 930.3L456.5 930.4L458.0 930.9L459.5 930.4L461.0 930.8L462.5 931.1L464.0 931.1L465.5 929.7L467.0 930.3L468.5 930.0L470.0 930.2L471.5 930.5L473.0 931.6L474.5 930.4L476.0 930.6L477.5 930.6L479.0 931.4L480.5 930.5L482.0 931.0L483.5 931.2L485.0 931.1L486.5 929.9L488.0 930.2L489.5 931.2L491.0 930.0L492.5 930.8L494.0 930.2L495.5 931.1L497.0 930.9L498.5 930.2L500.0 930.8L501.5 930.5L503.0 930.7L504.5 931.6L506.0 931.1L507.5 931.2L509.0 931.7L510.5 931.1L512.0 931.7L513.5 931.2L515.0 931.2L516.5 930.9L518.0 930.7L519.5 930.6L521.0 930.7L522.5 931.4L524.0 931.3L525.5 930.8L527.0 931.7L528.5 930.9L530.0 931.0L531.5 930.6L533.0 930.8L534.5 931.6L536.0 931.5L537.5 931.0L539.0 931.8L540.5 931.3L542.0 931.3L543.5 931.8L545.0 931.5L546.5 931.2L548.0 930.9L549.5 931.9L551.0 930.3L552.5 931.1L554.0 930.6L555.5 931.1L557.0 931.8L558.5 931.2L560.0 931.2L561.5 931.4L563.0 932.3L564.5 932.1L566.0 931.5L567.5 931.1L569.0 931.3L570.5 931.6L572.0 931.3L573.5 931.4L575.0 931.0L576.5 930.8L578.0 930.9L579.5 931.6L581.0 931.0L582.5 932.6L584.0 931.7L585.5 931.8L587.0 931.9L588.5 931.0L590.0 930.9L591.5 931.4L593.0 931.7L594.5 931.7L596.0 932.2L597.5 932.1L599.0 932.0L600.5 932.0L602.0 931.6L603.5 931.9L605.0 931.4L606.5 931.3L608.0 931.9L609.5 930.7L611.0 932.1L612.5 932.3L614.0 931.3L615.5 931.8L617.0 931.6L618.5 931.0L620.0 931.7L621.5 931.7L623.0 931.9L624.5 931.3L626.0 931.5L627.5 931.2L629.0 931.9L630.5 931.4L632.0 931.9L633.5 931.2L635.0 931.5L636.5 931.1L638.0 931.1L639.5 932.0L641.0 931.4L642.5 931.4L644.0 931.8L645.5 931.1L647.0 932.3L648.5 931.1L650.0 931.2L651.5 932.4L653.0 930.6L654.5 932.2L656.0 931.6L657.5 931.6L659.0 930.9L660.5 931.5L662.0 930.8L663.5 931.8L665.0 931.3L666.5 931.1L668.0 931.1L669.5 931.3L671.0 931.8L672.5 931.5L674.0 931.0L675.5 930.9L677.0 930.8L678.5 931.7L680.0 931.5L681.5 930.8L683.0 930.5L684.5 931.2L686.0 931.0L687.5 931.5L689.0 931.2L690.5 931.4L692.0 931.6L693.5 931.7L695.0 931.1L696.5 931.5L698.0 930.9L699.5 930.7L701.0 931.3L702.5 931.7L704.0 931.8L705.5 931.1L707.0 930.4L708.5 931.3L710.0 931.0L711.5 931.4L713.0 931.6L714.5 930.9L716.0 930.8L717.5 930.9L719.0 930.8L720.5 930.6L722.0 931.2L723.5 930.7L725.0 930.9L726.5 930.9L728.0 930.8L729.5 931.3L731.0 930.8L732.5 931.0L734.0 931.4L735.5 930.9L737.0 930.3L738.5 930.8L740.0 930.8L741.5 931.2L743.0 931.7L744.5 931.0L746.0 930.9L747.5 931.6L749.0 930.6L750.5 931.0L752.0 931.1L753.5 930.9L755.0 930.8L756.5 930.9L758.0 931.5L759.5 931.1L761.0 930.6L762.5 931.0L764.0 931.3L765.5 931.6L767.0 931.2L768.5 930.9L770.0 931.4L771.5 931.2L773.0 930.8L774.5 930.5L776.0 930.8L777.5 931.2L779.0 930.2L780.5 930.0L782.0 930.9L783.5 930.0L785.0 930.1L786.5 930.6L788.0 930.6L789.5 930.7L791.0 930.7L792.5 930.9L794.0 930.6L795.5 930.2L797.0 929.3L798.5 931.1L800.0 930.9L801.5 930.8L803.0 930.5L804.5 930.1L806.0 930.7L807.5 930.5L809.0 929.9L810.5 931.0L812.0 929.9L813.5 930.3L815.0 931.3L816.5 930.1L818.0 930.5L819.5 930.9L821.0 930.4L822.5 929.8L824.0 930.2L825.5 930.4L827.0 929.7L828.5 931.0L830.0 930.5L831.5 930.6L833.0 930.4L834.5 930.5L836.0 930.1L837.5 929.6L839.0 930.6L840.5 930.3L842.0 930.9L843.5 929.7L845.0 930.3L846.5 931.2L848.0 929.6L849.5 929.6L851.0 930.3L852.5 930.9L854.0 929.6L855.5 930.1L857.0 930.0L858.5 929.8L860.0 929.9L861.5 930.6L863.0 930.1L864.5 929.4L866.0 929.7L867.5 930.0L869.0 929.3L870.5 929.6L872.0 929.7L873.5 929.0L875.0 930.7L876.5 929.1L878.0 929.9L879.5 929.7L881.0 929.5L882.5 930.3L884.0 929.8L885.5 929.4L887.0 930.3L888.5 930.0L890.0 929.2L891.5 929.0L893.0 930.0L894.5 929.6L896.0 928.9L897.5 929.8L899.0 928.9L900.5 929.2L902.0 929.1L903.5 928.6L905.0 929.8L906.5 931.0L908.0 929.7L909.5 929.6L911.0 929.3L912.5 929.3L914.0 929.4L915.5 929.6L917.0 929.0L918.5 929.3L920.0 929.1L921.5 929.4L923.0 929.6L924.5 929.6L926.0 928.9L927.5 928.9L929.0 929.4L930.5 928.9L932.0 928.9L933.5 929.2L935.0 929.1L936.5 929.5L938.0 928.3L939.5 929.4L941.0 928.6L942.5 929.1L944.0 928.2L945.5 928.7L947.0 928.4L948.5 929.5L950.0 928.2L951.5 929.1L953.0 928.2L954.5 928.0L956.0 928.6L957.5 928.9L959.0 928.4L960.5 928.6L962.0 928.4L963.5 928.3L965.0 928.9L966.5 928.2L968.0 928.6L969.5 927.6L971.0 928.0L972.5 928.5L974.0 927.8L975.5 927.0L977.0 928.3L978.5 928.1L980.0 927.7L981.5 927.8L983.0 927.6L984.5 927.9L986.0 928.2L987.5 927.8L989.0 927.5L990.5 927.3L992.0 927.4L993.5 927.2L995.0 927.8L996.5 926.8L998.0 927.0L999.5 927.4L1001.0 927.3L1002.5 927.2L1004.0 926.8L1005.5 927.0L1007.0 926.1L1008.5 925.9L1010.0 925.9L1011.5 926.5L1013.0 926.8L1014.5 925.8L1016.0 925.6L1017.5 925.6L1019.0 926.4L1020.5 925.6L1022.0 925.4L1023.5 925.0L1025.0 925.3L1026.5 925.6L1028.0 925.0L1029.5 924.4L1031.0 925.2L1032.5 924.5L1034.0 925.2L1035.5 923.8L1037.0 924.1L1038.5 924.2L1040.0 923.2L1041.5 923.9L1043.0 924.0L1044.5 923.6L1046.0 923.7L1047.5 923.5L1049.0 922.9L1050.5 923.5L1052.0 922.7L1053.5 922.7L1055.0 922.4L1056.5 922.8L1058.0 922.2L1059.5 922.0L1061.0 921.1L1062.5 921.8L1064.0 922.2L1065.5 920.6L1067.0 921.4L1068.5 921.0L1070.0 919.9L1071.5 920.2L1073.0 920.5L1074.5 919.8L1076.0 919.6L1077.5 919.6L1079.0 918.6L1080.5 918.8L1082.0 917.5L1083.5 917.3L1085.0 918.1L1086.5 917.7L1088.0 917.3L1089.5 915.9L1091.0 916.3L1092.5 915.8L1094.0 916.8L1095.5 915.2L1097.0 915.0L1098.5 915.2L1100.0 915.4L1101.5 914.8L1103.0 914.8L1104.5 914.9L1106.0 914.6L1107.5 913.6L1109.0 913.7L1110.5 914.8L1112.0 913.8L1113.5 914.4L1115.0 914.0L1116.5 913.7L1118.0 913.0L1119.5 913.4L1121.0 912.3L1122.5 913.2L1124.0 912.2L1125.5 912.0L1127.0 911.2L1128.5 910.8L1130.0 910.6L1131.5 910.1L1133.0 909.5L1134.5 908.8L1136.0 908.7L1137.5 908.4L1139.0 907.9L1140.5 906.4L1142.0 905.1L1143.5 904.6L1145.0 904.2L1146.5 902.7L1148.0 902.2L1149.5 901.1L1151.0 900.2L1152.5 899.0L1154.0 898.7L1155.5 897.1L1157.0 896.1L1158.5 895.7L1160.0 895.0L1161.5 893.8L1163.0 892.5L1164.5 890.6L1166.0 889.2L1167.5 888.3L1169.0 887.5L1170.5 884.3L1172.0 885.0L1173.5 883.6L1175.0 882.5L1176.5 881.1L1178.0 879.9L1179.5 878.4L1181.0 877.7L1182.5 875.6L1184.0 874.2L1185.5 871.7L1187.0 870.1L1188.5 866.8L1190.0 863.3L1191.5 862.5L1193.0 861.0L1194.5 860.0L1196.0 860.1L1197.5 860.2L1199.0 860.3L1200.5 859.7L1202.0 860.1L1203.5 860.2L1205.0 860.7L1206.5 861.4L1208.0 861.1L1209.5 862.2L1211.0 863.7L1212.5 863.3L1214.0 864.5L1215.5 866.7L1217.0 866.3L1218.5 867.7L1220.0 868.6L1221.5 869.2L1223.0 870.7L1224.5 871.7L1226.0 872.2L1227.5 874.8L1229.0 875.4L1230.5 877.5L1232.0 879.6L1233.5 881.6L1235.0 882.9L1236.5 885.4L1238.0 886.1L1239.5 888.7L1241.0 890.3L1242.5 892.0L1244.0 893.9L1245.5 895.7L1247.0 896.7L1248.5 898.5L1250.0 899.1L1251.5 900.9L1253.0 902.7L1254.5 903.2L1256.0 904.5L1257.5 905.7L1259.0 907.2L1260.5 908.0L1262.0 908.8L1263.5 909.5L1265.0 911.1L1266.5 910.7L1268.0 913.1L1269.5 913.5L1271.0 915.0L1272.5 915.6L1274.0 917.0L1275.5 916.8L1277.0 916.8L1278.5 918.2L1280.0 918.5L1281.5 919.2L1283.0 920.2L1284.5 919.7L1286.0 920.8L1287.5 921.3L1289.0 921.7L1290.5 920.7L1292.0 921.9L1293.5 921.8L1295.0 922.2L1296.5 922.2L1298.0 922.6L1299.5 923.3L1301.0 923.9L1302.5 923.6L1304.0 922.9L1305.5 924.1L1307.0 923.2L1308.5 923.7L1310.0 924.5L1311.5 923.9L1313.0 924.6L1314.5 924.3L1316.0 924.0L1317.5 924.7L1319.0 924.5L1320.5 925.6L1322.0 925.8L1323.5 925.8L1325.0 924.8L1326.5 926.2L1328.0 925.6L1329.5 925.8L1331.0 925.7L1332.5 925.5L1334.0 925.9L1335.5 926.4L1337.0 926.8L1338.5 926.4L1340.0 926.3L1341.5 926.1L1343.0 926.3L1344.5 927.3L1346.0 926.9L1347.5 926.8L1349.0 926.1L1350.5 926.1L1352.0 927.2L1353.5 927.3L1355.0 927.6L1356.5 927.2L1358.0 926.9L1359.5 926.5L1361.0 927.0L1362.5 926.4L1364.0 927.7L1365.5 927.8L1367.0 928.3L1368.5 926.9L1370.0 927.2L1371.5 928.2L1373.0 928.1L1374.5 927.1L1376.0 927.8L1377.5 928.2L1379.0 928.1L1380.5 928.5L1382.0 928.4L1383.5 928.2L1385.0 928.7L1386.5 928.5L1388.0 929.2L1389.5 928.1L1391.0 928.7L1392.5 928.5L1394.0 928.8L1395.5 929.1L1397.0 929.3L1398.5 928.1L1400.0 929.7L1401.5 929.5L1403.0 929.5L1404.5 929.4L1406.0 929.8L1407.5 929.6L1409.0 928.7L1410.5 929.3L1412.0 929.5L1413.5 929.5L1415.0 929.5L1416.5 930.1L1418.0 929.3L1419.5 929.6L1421.0 929.5L1422.5 930.0L1424.0 930.2L1425.5 929.7L1427.0 930.3L1428.5 929.9L1430.0 930.8L1431.5 929.3L1433.0 930.3L1434.5 930.8L1436.0 930.2L1437.5 929.9L1439.0 930.1L1440.5 930.7L1442.0 930.3L1443.5 931.0L1445.0 930.6L1446.5 930.4L1448.0 930.4L1449.5 930.9L1451.0 931.1L1452.5 930.3L1454.0 930.2L1455.5 930.2L1457.0 931.0L1458.5 931.6L1460.0 930.5L1461.5 931.1L1463.0 930.6L1464.5 931.2L1466.0 930.2L1467.5 931.1L1469.0 930.3L1470.5 930.5L1472.0 931.0L1473.5 930.8L1475.0 930.9L1476.5 931.2L1478.0 931.0L1479.5 931.6L1481.0 931.3L1482.5 930.6L1484.0 930.9L1485.5 930.7L1487.0 930.8L1488.5 931.8L1490.0 930.7L1491.5 931.6L1493.0 931.7L1494.5 932.3L1496.0 931.1L1497.5 931.2L1499.0 931.2L1500.5 930.9L1502.0 931.9L1503.5 932.0L1505.0 930.1L1506.5 931.0L1508.0 931.7L1509.5 930.7L1511.0 930.8L1512.5 931.2L1514.0 931.2L1515.5 931.1L1517.0 931.1L1518.5 932.0L1520.0 930.1L1521.5 931.0L1523.0 930.7L1524.5 931.3L1526.0 931.0L1527.5 931.4L1529.0 931.2L1530.5 932.3L1532.0 930.7L1533.5 931.0L1535.0 931.7L1536.5 931.1L1538.0 931.3L1539.5 930.6L1541.0 931.6L1542.5 931.2L1544.0 931.6L1545.5 930.9L1547.0 931.1L1548.5 930.9L1550.0 932.1L1551.5 930.5L1553.0 931.5L1554.5 931.5L1556.0 931.9L1557.5 931.5L1559.0 930.9L1560.5 931.6L1562.0 930.6L1563.5 931.9L1565.0 931.3L1566.5 931.1L1568.0 931.2L1569.5 931.7L1571.0 930.6L1572.5 932.2L1574.0 931.1L1575.5 932.1L1577.0 931.5L1578.5 932.3L1580.0 930.9L1581.5 931.8L1583.0 931.4L1584.5 931.2L1586.0 931.8L1587.5 931.4L1589.0 931.1L1590.5 931.4L1592.0 931.1L1593.5 931.4L1595.0 931.5L1596.5 932.0L1598.0 931.4L1599.5 931.1L1601.0 931.8L1602.5 931.3L1604.0 931.1L1605.5 931.0L1607.0 932.3L1608.5 931.5L1610.0 932.3L1611.5 931.1L1613.0 931.0L1614.5 932.3L1616.0 931.4L1617.5 931.5L1619.0 931.4L1620.5 931.1L1622.0 932.0L1623.5 931.0L1625.0 931.9L1626.5 931.1L1628.0 932.8L1629.5 931.9L1631.0 932.1L1632.5 930.8L1634.0 931.7L1635.5 931.3L1637.0 931.2L1638.5 931.2L1640.0 932.0L1641.5 931.6L1643.0 931.4L1644.5 931.3L1646.0 931.3L1647.5 931.4L1649.0 931.5L1650.5 931.1L1652.0 931.2L1653.5 930.6L1655.0 931.6L1656.5 931.9L1658.0 931.4L1659.5 932.3L1661.0 931.3L1662.5 931.7L1664.0 932.2L1665.5 931.8L1667.0 931.3L1668.5 931.8L1670.0 931.5L1671.5 932.2L1673.0 932.0L1674.5 931.6L1676.0 931.9L1677.5 932.5L1679.0 932.2L1680.5 932.1L1682.0 931.6L1683.5 931.5L1685.0 931.4L1686.5 932.2L1688.0 931.2L1689.5 931.9L1691.0 932.5L1692.5 931.0L1694.0 931.9L1695.5 931.3L1697.0 931.7L1698.5 932.0L1700.0 931.3L1701.5 931.2L1703.0 931.6L1704.5 931.9L1706.0 931.6L1707.5 931.4L1709.0 932.1L1710.5 931.3L1712.0 931.2L1713.5 931.9L1715.0 932.8L1716.5 931.6L1718.0 931.8L1719.5 931.4L1721.0 931.6L1722.5 931.3L1724.0 932.0L1725.5 931.5L1727.0 931.5L1728.5 932.3L1730.0 931.2L1731.5 932.3L1733.0 931.8L1734.5 931.5L1736.0 931.9L1737.5 931.8L1739.0 932.0L1740.5 931.8L1742.0 932.8L1743.5 932.4L1745.0 932.4L1746.5 931.4L1748.0 931.8L1749.5 932.5L1751.0 932.2L1752.5 931.9L1754.0 931.9L1755.5 932.4L1757.0 931.1L1758.5 931.6L1760.0 931.3L1761.5 932.5L1763.0 931.3L1764.5 931.8L1766.0 932.6L1767.5 931.8L1769.0 932.1L1770.5 932.0L1772.0 932.3L1773.5 933.0L1775.0 931.5L1776.5 932.0L1778.0 932.8L1779.5 933.1L1781.0 931.9L1782.5 932.7L1784.0 932.3L1785.5 932.3L1787.0 931.4L1788.5 931.3L1790.0 932.1L1791.5 932.0L1793.0 932.0L1794.5 931.5L1796.0 932.7L1797.5 932.0L1799.0 933.3L1800.5 932.0L1802.0 932.2L1803.5 932.4L1805.0 931.9L1806.5 931.6L1808.0 931.8L1809.5 932.1L1811.0 931.9L1812.5 933.0L1814.0 931.9L1815.5 932.5L1817.0 932.5L1818.5 932.2L1820.0 931.6L1821.5 932.4L1823.0 932.6L1824.5 932.2L1826.0 932.1L1827.5 931.2L1829.0 931.6L1830.5 932.1L1832.0 932.2L1833.5 932.5L1835.0 932.0L1836.5 932.2L1838.0 931.7L1839.5 932.5L1841.0 932.5L1842.5 932.1L1844.0 932.6L1845.5 932.0L1847.0 932.0L1848.5 932.1L1850.0 933.1L1851.5 931.5L1853.0 932.3L1854.5 932.0L1856.0 932.3L1857.5 931.5L1859.0 932.5L1860.5 932.5L1862.0 932.1L1863.5 932.0L1865.0 932.3L1866.5 932.7L1868.0 931.5L1869.5 932.9L1871.0 932.1L1872.5 932.6L1874.0 931.9L1875.5 933.1L1877.0 932.4L1878.5 933.1L1880.0 932.0L1881.5 932.0L1883.0 932.8L1884.5 932.6L1886.0 932.4L1887.5 932.8L1889.0 932.5L1890.5 932.1L1892.0 931.4L1893.5 931.3L1895.0 932.6L1896.5 932.6L1898.0 931.9L1899.5 932.6L1901.0 932.2L1902.5 932.3L1904.0 932.8L1905.5 931.6" stroke="#006fe6"/>
<path d="M141.5 728.0L143.0 728.1L144.5 727.9L146.0 728.1L147.5 727.5L149.0 728.2L150.5 728.5L152.0 728.6L153.5 728.0L155.0 728.7L156.5 728.6L158.0 728.8L159.5 728.5L161.0 728.9L162.5 728.8L164.0 729.8L165.5 728.6L167.0 729.4L168.5 728.9L170.0 728.3L171.5 729.2L173.0 729.6L174.5 729.5L176.0 729.5L177.5 728.9L179.0 729.4L180.5 728.7L182.0 730.2L183.5 730.2L185.0 729.0L186.5 729.4L188.0 729.0L189.5 729.3L191.0 729.5L192.5 729.2L194.0 729.6L195.5 730.2L197.0 729.8L198.5 730.3L200.0 729.9L201.5 730.1L203.0 729.5L204.5 730.6L206.0 729.7L207.5 730.1L209.0 729.7L210.5 730.6L212.0 729.9L213.5 730.7L215.0 731.4L216.5 730.7L218.0 729.6L219.5 731.1L221.0 730.8L222.5 731.0L224.0 731.0L225.5 731.4L227.0 731.3L228.5 730.9L230.0 730.4L231.5 731.0L233.0 731.4L234.5 730.3L236.0 731.2L237.5 730.4L239.0 731.8L240.5 732.1L242.0 731.7L243.5 731.2L245.0 731.8L246.5 732.1L248.0 732.3L249.5 732.2L251.0 732.1L252.5 731.2L254.0 731.6L255.5 732.0L257.0 731.8L258.5 730.9L260.0 731.8L261.5 731.6L263.0 732.0L264.5 732.1L266.0 731.4L267.5 731.7L269.0 732.2L270.5 731.7L272.0 732.2L273.5 731.9L275.0 732.0L276.5 732.7L278.0 732.3L279.5 732.1L281.0 733.1L282.5 732.3L284.0 732.5L285.5 732.6L287.0 734.0L288.5 732.9L290.0 733.1L291.5 732.5L293.0 733.1L294.5 733.3L296.0 732.3L297.5 733.1L299.0 733.6L300.5 733.8L302.0 733.1L303.5 734.1L305.0 732.7L306.5 733.6L308.0 733.4L309.5 732.7L311.0 733.7L312.5 732.7L314.0 733.0L315.5 733.3L317.0 732.8L318.5 734.0L320.0 733.3L321.5 732.9L323.0 733.7L324.5 733.6L326.0 733.1L327.5 733.4L329.0 734.1L330.5 734.1L332.0 733.1L333.5 734.3L335.0 734.3L336.5 734.4L338.0 733.7L339.5 733.7L341.0 734.0L342.5 733.8L344.0 734.0L345.5 733.9L347.0 734.1L348.5 734.0L350.0 734.3L351.5 734.4L353.0 734.2L354.5 734.1L356.0 735.2L357.5 734.9L359.0 734.7L360.5 734.1L362.0 734.9L363.5 734.5L365.0 734.9L366.5 734.8L368.0 735.8L369.5 734.7L371.0 734.3L372.5 735.3L374.0 735.3L375.5 735.5L377.0 733.7L378.5 734.5L380.0 734.5L381.5 734.2L383.0 735.0L384.5 735.3L386.0 735.5L387.5 735.4L389.0 735.0L390.5 735.8L392.0 735.2L393.5 733.8L395.0 734.9L396.5 734.7L398.0 735.3L399.5 734.9L401.0 735.0L402.5 735.7L404.0 734.8L405.5 734.5L407.0 735.2L408.5 735.4L410.0 735.1L411.5 735.2L413.0 734.9L414.5 734.6L416.0 734.8L417.5 734.7L419.0 735.7L420.5 735.1L422.0 735.8L423.5 735.1L425.0 734.8L426.5 735.3L428.0 735.3L429.5 735.8L431.0 734.3L432.5 735.1L434.0 735.4L435.5 734.9L437.0 735.3L438.5 735.1L440.0 735.9L441.5 735.9L443.0 734.3L444.5 734.6L446.0 734.9L447.5 735.3L449.0 735.2L450.5 735.1L452.0 735.6L453.5 735.7L455.0 735.4L456.5 735.2L458.0 735.4L459.5 735.0L461.0 735.7L462.5 735.8L464.0 735.0L465.5 736.0L467.0 735.4L468.5 735.8L470.0 735.4L471.5 735.3L473.0 735.7L474.5 735.0L476.0 735.3L477.5 734.9L479.0 735.7L480.5 735.3L482.0 735.3L483.5 735.2L485.0 735.7L486.5 735.6L488.0 735.4L489.5 735.3L491.0 736.3L492.5 736.2L494.0 735.0L495.5 736.0L497.0 735.7L498.5 735.6L500.0 735.7L501.5 734.9L503.0 736.6L504.5 736.4L506.0 735.5L507.5 735.5L509.0 735.6L510.5 735.2L512.0 735.8L513.5 735.5L515.0 735.0L516.5 735.3L518.0 735.2L519.5 735.3L521.0 735.4L522.5 735.8L524.0 735.3L525.5 734.8L527.0 736.2L528.5 735.3L530.0 736.2L531.5 735.7L533.0 735.8L534.5 735.2L536.0 735.6L537.5 735.4L539.0 735.5L540.5 735.8L542.0 735.4L543.5 735.9L545.0 734.9L546.5 735.1L548.0 735.8L549.5 735.8L551.0 736.1L552.5 736.3L554.0 735.8L555.5 735.9L557.0 735.7L558.5 735.7L560.0 735.5L561.5 735.6L563.0 735.3L564.5 735.5L566.0 736.0L567.5 735.8L569.0 736.1L570.5 735.4L572.0 735.4L573.5 735.8L575.0 735.2L576.5 735.2L578.0 735.9L579.5 735.5L581.0 736.0L582.5 735.6L584.0 735.4L585.5 735.1L587.0 736.1L588.5 735.5L590.0 735.2L591.5 734.9L593.0 735.0L594.5 735.4L596.0 736.1L597.5 735.1L599.0 735.7L600.5 735.7L602.0 734.0L603.5 735.0L605.0 735.9L606.5 734.6L608.0 736.0L609.5 735.5L611.0 734.8L612.5 736.4L614.0 735.5L615.5 736.2L617.0 735.6L618.5 735.2L620.0 736.0L621.5 736.3L623.0 736.1L624.5 734.9L626.0 735.8L627.5 734.9L629.0 735.2L630.5 736.1L632.0 734.8L633.5 736.6L635.0 734.7L636.5 734.8L638.0 735.8L639.5 735.3L641.0 735.4L642.5 735.0L644.0 735.7L645.5 735.5L647.0 735.4L648.5 735.0L650.0 734.7L651.5 735.4L653.0 734.4L654.5 735.1L656.0 735.6L657.5 735.7L659.0 735.2L660.5 734.2L662.0 735.6L663.5 735.7L665.0 735.3L666.5 735.9L668.0 735.8L669.5 734.5L671.0 735.2L672.5 735.1L674.0 736.0L675.5 735.8L677.0 735.3L678.5 735.5L680.0 735.6L681.5 734.9L683.0 735.1L684.5 735.2L686.0 735.0L687.5 735.0L689.0 735.3L690.5 734.6L692.0 734.6L693.5 735.5L695.0 735.8L696.5 736.0L698.0 734.3L699.5 735.3L701.0 734.7L702.5 734.8L704.0 735.0L705.5 735.3L707.0 735.3L708.5 733.9L710.0 734.8L711.5 735.5L713.0 735.1L714.5 734.3L716.0 734.5L717.5 734.6L719.0 735.4L720.5 735.8L722.0 734.4L723.5 735.2L725.0 734.8L726.5 735.2L728.0 734.8L729.5 734.4L731.0 734.6L732.5 734.6L734.0 735.5L735.5 734.5L737.0 735.1L738.5 734.4L740.0 734.5L741.5 734.9L743.0 734.5L744.5 735.7L746.0 735.4L747.5 734.2L749.0 735.0L750.5 735.4L752.0 734.2L753.5 734.5L755.0 735.4L756.5 734.3L758.0 735.0L759.5 734.6L761.0 734.7L762.5 734.2L764.0 734.6L765.5 734.4L767.0 735.4L768.5 734.9L770.0 734.6L771.5 734.6L773.0 734.9L774.5 733.8L776.0 734.1L777.5 734.1L779.0 734.1L780.5 733.7L782.0 734.7L783.5 734.2L785.0 735.0L786.5 734.4L788.0 734.3L789.5 734.6L791.0 734.6L792.5 734.3L794.0 734.6L795.5 734.9L797.0 734.1L798.5 734.9L800.0 734.2L801.5 734.7L803.0 734.3L804.5 734.1L806.0 734.4L807.5 733.8L809.0 733.5L810.5 734.2L812.0 734.1L813.5 733.7L815.0 735.2L816.5 734.4L818.0 733.9L819.5 734.4L821.0 734.4L822.5 734.0L824.0 734.0L825.5 733.3L827.0 734.2L828.5 735.0L830.0 734.6L831.5 734.5L833.0 733.8L834.5 733.6L836.0 734.4L837.5 734.2L839.0 733.9L840.5 733.8L842.0 734.4L843.5 734.2L845.0 733.7L846.5 733.9L848.0 733.2L849.5 733.4L851.0 734.2L852.5 733.7L854.0 733.5L855.5 734.0L857.0 734.4L858.5 733.4L860.0 733.7L861.5 733.7L863.0 734.9L864.5 734.2L866.0 733.9L867.5 733.1L869.0 734.1L870.5 734.0L872.0 733.6L873.5 733.3L875.0 733.4L876.5 732.9L878.0 733.4L879.5 733.4L881.0 733.2L882.5 733.4L884.0 732.8L885.5 734.0L887.0 733.4L888.5 733.0L890.0 733.8L891.5 733.7L893.0 733.2L894.5 732.8L896.0 733.4L897.5 733.6L899.0 733.7L900.5 733.8L902.0 733.7L903.5 732.6L905.0 733.3L906.5 732.4L908.0 733.7L909.5 733.4L911.0 733.6L912.5 733.2L914.0 733.2L915.5 732.9L917.0 731.8L918.5 733.0L920.0 734.2L921.5 733.6L923.0 732.9L924.5 733.1L926.0 733.2L927.5 732.7L929.0 732.9L930.5 733.1L932.0 732.7L933.5 733.1L935.0 733.4L936.5 733.2L938.0 732.9L939.5 732.7L941.0 733.1L942.5 732.5L944.0 732.4L945.5 733.2L947.0 732.5L948.5 732.0L950.0 733.0L951.5 732.9L953.0 733.0L954.5 732.5L956.0 733.0L957.5 732.4L959.0 732.0L960.5 732.3L962.0 732.5L963.5 731.8L965.0 732.2L966.5 732.4L968.0 732.0L969.5 732.2L971.0 732.2L972.5 731.8L974.0 732.3L975.5 732.3L977.0 731.1L978.5 731.7L980.0 732.4L981.5 732.2L983.0 731.1L984.5 732.0L986.0 732.5L987.5 732.2L989.0 732.1L990.5 731.7L992.0 731.7L993.5 731.2L995.0 731.6L996.5 732.6L998.0 731.6L999.5 731.1L1001.0 731.7L1002.5 730.5L1004.0 732.4L1005.5 731.7L1007.0 731.2L1008.5 731.1L1010.0 730.8L1011.5 731.3L1013.0 731.2L1014.5 730.4L1016.0 731.5L1017.5 730.9L1019.0 730.5L1020.5 731.4L1022.0 731.2L1023.5 730.6L1025.0 730.5L1026.5 731.2L1028.0 730.5L1029.5 730.7L1031.0 731.1L1032.5 729.8L1034.0 729.6L1035.5 729.8L1037.0 729.8L1038.5 730.0L1040.0 730.3L1041.5 729.6L1043.0 730.4L1044.5 729.6L1046.0 728.5L1047.5 729.3L1049.0 729.5L1050.5 729.5L1052.0 728.6L1053.5 728.8L1055.0 729.7L1056.5 728.6L1058.0 728.0L1059.5 727.6L1061.0 728.0L1062.5 728.3L1064.0 727.5L1065.5 728.5L1067.0 727.4L1068.5 726.8L1070.0 727.8L1071.5 727.5L1073.0 727.2L1074.5 727.8L1076.0 726.8L1077.5 727.3L1079.0 726.6L1080.5 727.5L1082.0 726.7L1083.5 726.6L1085.0 726.7L1086.5 726.3L1088.0 726.5L1089.5 726.1L1091.0 726.4L1092.5 726.0L1094.0 725.7L1095.5 726.1L1097.0 725.9L1098.5 725.1L1100.0 725.3L1101.5 724.5L1103.0 725.2L1104.5 725.3L1106.0 725.8L1107.5 724.5L1109.0 724.5L1110.5 724.4L1112.0 723.6L1113.5 722.0L1115.0 722.2L1116.5 722.1L1118.0 721.6L1119.5 721.1L1121.0 720.2L1122.5 719.4L1124.0 720.0L1125.5 720.0L1127.0 718.8L1128.5 718.9L1130.0 718.0L1131.5 717.7L1133.0 717.0L1134.5 717.1L1136.0 715.8L1137.5 715.7L1139.0 715.4L1140.5 714.3L1142.0 713.0L1143.5 712.9L1145.0 711.8L1146.5 710.5L1148.0 710.1L1149.5 709.2L1151.0 708.7L1152.5 707.3L1154.0 706.7L1155.5 706.0L1157.0 703.9L1158.5 704.2L1160.0 702.8L1161.5 701.3L1163.0 700.6L1164.5 699.8L1166.0 697.9L1167.5 696.8L1169.0 696.6L1170.5 695.8L1172.0 695.2L1173.5 693.6L1175.0 692.4L1176.5 691.6L1178.0 690.9L1179.5 689.6L1181.0 689.2L1182.5 688.5L1184.0 686.5L1185.5 686.8L1187.0 684.9L1188.5 684.3L1190.0 683.3L1191.5 683.5L1193.0 682.6L1194.5 682.0L1196.0 680.0L1197.5 680.5L1199.0 680.4L1200.5 678.8L1202.0 680.9L1203.5 680.2L1205.0 680.6L1206.5 680.0L1208.0 680.6L1209.5 680.9L1211.0 681.8L1212.5 680.8L1214.0 683.0L1215.5 682.4L1217.0 683.9L1218.5 684.5L1220.0 685.6L1221.5 685.8L1223.0 687.7L1224.5 688.5L1226.0 690.2L1227.5 691.7L1229.0 693.1L1230.5 694.5L1232.0 696.8L1233.5 697.8L1235.0 699.5L1236.5 701.2L1238.0 702.0L1239.5 703.6L1241.0 705.3L1242.5 706.4L1244.0 708.5L1245.5 709.1L1247.0 710.6L1248.5 711.9L1250.0 712.9L1251.5 714.1L1253.0 714.7L1254.5 714.6L1256.0 716.9L1257.5 716.8L1259.0 718.0L1260.5 717.7L1262.0 719.0L1263.5 718.7L1265.0 720.4L1266.5 720.3L1268.0 720.6L1269.5 720.1L1271.0 720.9L1272.5 722.3L1274.0 722.8L1275.5 723.3L1277.0 723.9L1278.5 725.1L1280.0 725.0L1281.5 725.4L1283.0 725.7L1284.5 725.9L1286.0 726.9L1287.5 726.9L1289.0 727.2L1290.5 727.8L1292.0 728.0L1293.5 728.6L1295.0 728.8L1296.5 728.1L1298.0 728.5L1299.5 729.5L1301.0 729.1L1302.5 729.6L1304.0 729.1L1305.5 728.5L1307.0 728.7L1308.5 729.5L1310.0 729.7L1311.5 731.1L1313.0 730.4L1314.5 730.5L1316.0 730.7L1317.5 729.6L1319.0 730.4L1320.5 730.4L1322.0 731.4L1323.5 730.3L1325.0 730.0L1326.5 730.8L1328.0 730.7L1329.5 730.9L1331.0 731.0L1332.5 731.1L1334.0 730.8L1335.5 730.9L1337.0 732.2L1338.5 731.0L1340.0 731.5L1341.5 730.9L1343.0 730.7L1344.5 731.9L1346.0 731.7L1347.5 732.2L1349.0 732.2L1350.5 731.9L1352.0 731.5L1353.5 732.7L1355.0 731.9L1356.5 732.9L1358.0 732.3L1359.5 732.5L1361.0 732.4L1362.5 732.4L1364.0 732.1L1365.5 733.3L1367.0 731.9L1368.5 731.7L1370.0 732.6L1371.5 732.2L1373.0 732.9L1374.5 732.5L1376.0 733.1L1377.5 732.7L1379.0 732.3L1380.5 732.6L1382.0 733.1L1383.5 732.5L1385.0 732.5L1386.5 732.8L1388.0 733.0L1389.5 733.5L1391.0 733.2L1392.5 733.4L1394.0 733.0L1395.5 733.9L1397.0 734.1L1398.5 732.9L1400.0 733.3L1401.5 733.2L1403.0 733.4L1404.5 733.2L1406.0 733.0L1407.5 732.8L1409.0 733.2L1410.5 733.4L1412.0 733.9L1413.5 733.8L1415.0 733.3L1416.5 733.3L1418.0 732.9L1419.5 733.9L1421.0 733.7L1422.5 734.0L1424.0 734.1L1425.5 734.0L1427.0 733.7L1428.5 733.7L1430.0 733.4L1431.5 733.6L1433.0 734.1L1434.5 734.9L1436.0 733.8L1437.5 734.1L1439.0 735.4L1440.5 734.1L1442.0 733.9L1443.5 734.1L1445.0 734.0L1446.5 733.2L1448.0 734.5L1449.5 733.3L1451.0 733.9L1452.5 734.0L1454.0 734.4L1455.5 734.1L1457.0 734.0L1458.5 733.8L1460.0 734.3L1461.5 734.1L1463.0 733.9L1464.5 733.7L1466.0 733.9L1467.5 734.4L1469.0 733.6L1470.5 734.4L1472.0 734.4L1473.5 734.9L1475.0 734.0L1476.5 733.9L1478.0 734.3L1479.5 734.2L1481.0 733.2L1482.5 734.9L1484.0 734.5L1485.5 734.5L1487.0 734.1L1488.5 734.6L1490.0 734.4L1491.5 735.2L1493.0 734.8L1494.5 735.2L1496.0 734.0L1497.5 734.2L1499.0 734.4L1500.5 734.3L1502.0 735.3L1503.5 734.8L1505.0 734.2L1506.5 734.5L1508.0 735.5L1509.5 734.5L1511.0 735.0L1512.5 733.9L1514.0 734.5L1515.5 734.7L1517.0 734.6L1518.5 734.8L1520.0 734.9L1521.5 735.3L1523.0 734.0L1524.5 734.8L1526.0 735.1L1527.5 734.9L1529.0 735.4L1530.5 734.8L1532.0 734.7L1533.5 734.5L1535.0 735.3L1536.5 734.3L1538.0 734.7L1539.5 734.9L1541.0 735.2L1542.5 734.8L1544.0 734.6L1545.5 735.2L1547.0 734.5L1548.5 734.7L1550.0 734.1L1551.5 735.1L1553.0 735.1L1554.5 734.3L1556.0 735.0L1557.5 735.3L1559.0 734.8L1560.5 734.3L1562.0 735.1L1563.5 735.4L1565.0 734.3L1566.5 735.5L1568.0 735.1L1569.5 735.6L1571.0 734.7L1572.5 735.6L1574.0 735.3L1575.5 735.5L1577.0 735.2L1578.5 735.7L1580.0 735.1L1581.5 735.0L1583.0 734.8L1584.5 734.6L1586.0 735.3L1587.5 735.1L1589.0 735.2L1590.5 735.2L1592.0 735.5L1593.5 735.3L1595.0 735.1L1596.5 735.7L1598.0 736.3L1599.5 735.0L1601.0 735.2L1602.5 735.6L1604.0 735.1L1605.5 735.8L1607.0 735.1L1608.5 734.9L1610.0 735.0L1611.5 735.9L1613.0 734.5L1614.5 735.5L1616.0 734.5L1617.5 735.8L1619.0 735.6L1620.5 735.8L1622.0 736.4L1623.5 735.5L1625.0 736.0L1626.5 735.8L1628.0 736.0L1629.5 735.2L1631.0 736.1L1632.5 735.4L1634.0 736.2L1635.5 736.0L1637.0 735.6L1638.5 735.9L1640.0 735.9L1641.5 735.7L1643.0 736.8L1644.5 735.3L1646.0 735.1L1647.5 735.1L1649.0 735.6L1650.5 735.7L1652.0 736.0L1653.5 736.1L1655.0 735.8L1656.5 735.8L1658.0 735.3L1659.5 736.2L1661.0 736.3L1662.5 735.7L1664.0 736.1L1665.5 735.5L1667.0 735.7L1668.5 735.8L1670.0 736.1L1671.5 735.1L1673.0 735.8L1674.5 736.2L1676.0 735.9L1677.5 736.1L1679.0 734.6L1680.5 735.4L1682.0 735.6L1683.5 735.4L1685.0 734.7L1686.5 736.2L1688.0 735.9L1689.5 734.9L1691.0 735.5L1692.5 735.8L1694.0 736.2L1695.5 736.0L1697.0 735.3L1698.5 735.4L1700.0 735.8L1701.5 736.2L1703.0 735.5L1704.5 735.5L1706.0 736.0L1707.5 735.8L1709.0 736.3L1710.5 735.9L1712.0 736.2L1713.5 734.8L1715.0 735.1L1716.5 735.0L1718.0 735.4L1719.5 735.9L1721.0 735.6L1722.5 735.9L1724.0 735.4L1725.5 736.2L1727.0 736.1L1728.5 734.9L1730.0 735.2L1731.5 735.4L1733.0 736.1L1734.5 736.1L1736.0 736.5L1737.5 735.0L1739.0 735.8L1740.5 735.7L1742.0 735.6L1743.5 735.6L1745.0 734.8L1746.5 735.8L1748.0 735.5L1749.5 735.1L1751.0 736.3L1752.5 735.4L1754.0 735.8L1755.5 735.4L1757.0 735.0L1758.5 735.5L1760.0 735.8L1761.5 735.2L1763.0 735.9L1764.5 736.5L1766.0 736.2L1767.5 735.6L1769.0 735.3L1770.5 736.1L1772.0 735.1L1773.5 735.2L1775.0 736.5L1776.5 735.9L1778.0 735.9L1779.5 735.6L1781.0 737.0L1782.5 737.1L1784.0 735.7L1785.5 736.1L1787.0 735.6L1788.5 735.9L1790.0 736.3L1791.5 736.3L1793.0 735.6L1794.5 735.9L1796.0 737.0L1797.5 736.2L1799.0 736.4L1800.5 736.0L1802.0 735.7L1803.5 735.2L1805.0 735.3L1806.5 735.0L1808.0 735.2L1809.5 735.3L1811.0 736.1L1812.5 735.0L1814.0 735.9L1815.5 734.8L1817.0 736.9L1818.5 735.5L1820.0 735.8L1821.5 736.6L1823.0 735.7L1824.5 735.8L1826.0 735.8L1827.5 736.0L1829.0 735.5L1830.5 736.6L1832.0 736.3L1833.5 735.8L1835.0 736.3L1836.5 735.7L1838.0 735.5L1839.5 735.7L1841.0 736.0L1842.5 735.0L1844.0 735.6L1845.5 736.0L1847.0 735.2L1848.5 735.9L1850.0 735.2L1851.5 735.8L1853.0 735.7L1854.5 735.9L1856.0 735.4L1857.5 734.8L1859.0 734.5L1860.5 737.5L1862.0 735.1L1863.5 735.3L1865.0 735.0L1866.5 736.4L1868.0 736.1L1869.5 736.1L1871.0 735.2L1872.5 736.2L1874.0 735.4L1875.5 736.3L1877.0 735.7L1878.5 734.7L1880.0 735.7L1881.5 735.3L1883.0 736.8L1884.5 735.1L1886.0 735.6L1887.5 735.6L1889.0 735.3L1890.5 735.4L1892.0 735.7L1893.5 735.9L1895.0 735.5L1896.5 735.6L1898.0 735.7L1899.5 735.3L1901.0 735.6L1902.5 735.7L1904.0 736.2L1905.5 736.0" stroke="#00ac62"/>
<path d="M141.5 533.6L143.0 533.9L144.5 533.1L146.0 534.1L147.5 533.4L149.0 533.6L150.5 533.5L152.0 534.0L153.5 533.5L155.0 534.1L156.5 533.7L158.0 533.7L159.5 534.1L161.0 533.6L162.5 534.6L164.0 533.7L165.5 533.9L167.0 534.7L168.5 533.5L170.0 534.6L171.5 534.3L173.0 534.4L174.5 534.4L176.0 534.0L177.5 535.2L179.0 534.7L180.5 534.8L182.0 534.9L183.5 535.0L185.0 534.8L186.5 534.2L188.0 534.1L189.5 534.1L191.0 534.6L192.5 535.3L194.0 534.3L195.5 534.8L197.0 535.2L198.5 534.8L200.0 534.9L201.5 534.6L203.0 535.2L204.5 534.9L206.0 534.8L207.5 535.0L209.0 535.4L210.5 535.7L212.0 534.8L213.5 535.6L215.0 534.9L216.5 534.6L218.0 535.1L219.5 535.5L221.0 535.5L222.5 535.7L224.0 534.6L225.5 536.2L227.0 536.0L228.5 536.0L230.0 535.0L231.5 535.9L233.0 535.5L234.5 535.6L236.0 535.8L237.5 535.1L239.0 536.4L240.5 536.4L242.0 536.3L243.5 536.6L245.0 535.2L246.5 535.9L248.0 535.9L249.5 535.5L251.0 536.5L252.5 537.3L254.0 535.7L255.5 536.4L257.0 536.2L258.5 536.3L260.0 536.3L261.5 536.6L263.0 536.0L264.5 536.1L266.0 537.1L267.5 536.4L269.0 536.4L270.5 535.6L272.0 536.7L273.5 536.7L275.0 536.6L276.5 537.2L278.0 535.6L279.5 537.0L281.0 535.8L282.5 536.1L284.0 535.7L285.5 537.0L287.0 536.6L288.5 536.5L290.0 536.7L291.5 535.8L293.0 536.5L294.5 536.9L296.0 536.5L297.5 536.8L299.0 536.1L300.5 536.9L302.0 536.7L303.5 537.0L305.0 537.6L306.5 537.0L308.0 536.7L309.5 537.2L311.0 536.5L312.5 537.8L314.0 537.0L315.5 537.1L317.0 537.3L318.5 536.5L320.0 537.1L321.5 537.0L323.0 538.1L324.5 537.8L326.0 538.0L327.5 537.2L329.0 537.3L330.5 537.7L332.0 537.0L333.5 536.9L335.0 538.0L336.5 537.5L338.0 537.5L339.5 536.6L341.0 537.2L342.5 537.2L344.0 537.1L345.5 537.6L347.0 537.0L348.5 536.9L350.0 538.4L351.5 537.7L353.0 537.0L354.5 538.5L356.0 537.8L357.5 537.7L359.0 536.3L360.5 538.3L362.0 537.7L363.5 538.2L365.0 538.4L366.5 537.1L368.0 538.5L369.5 538.1L371.0 537.8L372.5 536.7L374.0 538.6L375.5 537.9L377.0 538.0L378.5 537.2L380.0 538.1L381.5 538.0L383.0 538.5L384.5 537.4L386.0 536.8L387.5 537.5L389.0 537.4L390.5 538.0L392.0 537.8L393.5 537.9L395.0 538.4L396.5 538.6L398.0 537.9L399.5 537.2L401.0 537.9L402.5 537.8L404.0 537.9L405.5 537.8L407.0 537.9L408.5 536.9L410.0 538.2L411.5 538.1L413.0 538.1L414.5 537.9L416.0 538.3L417.5 537.2L419.0 537.9L420.5 538.2L422.0 537.7L423.5 537.9L425.0 538.4L426.5 537.9L428.0 537.6L429.5 537.7L431.0 538.1L432.5 537.5L434.0 538.0L435.5 537.8L437.0 538.0L438.5 538.3L440.0 538.3L441.5 538.0L443.0 538.1L444.5 538.4L446.0 537.7L447.5 538.1L449.0 537.5L450.5 538.6L452.0 538.1L453.5 537.5L455.0 537.8L456.5 538.4L458.0 538.2L459.5 537.3L461.0 538.8L462.5 538.2L464.0 538.2L465.5 537.9L467.0 537.7L468.5 537.4L470.0 538.2L471.5 538.1L473.0 538.0L474.5 538.4L476.0 538.3L477.5 537.7L479.0 537.9L480.5 538.6L482.0 537.5L483.5 539.1L485.0 537.9L486.5 539.3L488.0 538.3L489.5 537.4L491.0 538.4L492.5 538.2L494.0 538.0L495.5 538.2L497.0 538.2L498.5 536.7L500.0 538.5L501.5 538.1L503.0 538.2L504.5 538.5L506.0 538.2L507.5 537.7L509.0 538.6L510.5 538.1L512.0 538.3L513.5 537.9L515.0 538.1L516.5 537.8L518.0 538.9L519.5 537.8L521.0 538.7L522.5 537.4L524.0 538.3L525.5 538.1L527.0 538.7L528.5 538.3L530.0 539.3L531.5 539.6L533.0 538.0L534.5 538.6L536.0 537.8L537.5 537.8L539.0 538.2L540.5 538.7L542.0 538.6L543.5 538.2L545.0 538.8L546.5 537.7L548.0 537.9L549.5 538.2L551.0 537.5L552.5 538.9L554.0 538.2L555.5 538.1L557.0 538.5L558.5 537.7L560.0 538.2L561.5 537.5L563.0 538.2L564.5 538.3L566.0 539.0L567.5 538.3L569.0 538.9L570.5 538.3L572.0 537.6L573.5 538.6L575.0 538.3L576.5 538.0L578.0 538.7L579.5 537.8L581.0 538.1L582.5 538.6L584.0 538.7L585.5 538.0L587.0 538.4L588.5 538.3L590.0 538.6L591.5 538.2L593.0 537.3L594.5 538.1L596.0 539.0L597.5 537.9L599.0 538.2L600.5 538.7L602.0 538.2L603.5 537.8L605.0 538.3L606.5 538.2L608.0 537.9L609.5 538.2L611.0 537.6L612.5 537.6L614.0 537.8L615.5 538.2L617.0 538.3L618.5 538.0L620.0 538.7L621.5 538.5L623.0 538.3L624.5 538.7L626.0 538.9L627.5 538.6L629.0 538.0L630.5 538.6L632.0 538.8L633.5 538.4L635.0 538.2L636.5 538.3L638.0 538.4L639.5 537.4L641.0 538.9L642.5 538.2L644.0 539.1L645.5 538.2L647.0 537.8L648.5 538.5L650.0 538.2L651.5 538.6L653.0 538.0L654.5 537.9L656.0 537.8L657.5 537.8L659.0 538.3L660.5 537.6L662.0 538.2L663.5 538.6L665.0 537.7L666.5 538.0L668.0 537.7L669.5 537.9L671.0 538.1L672.5 538.4L674.0 538.4L675.5 537.7L677.0 538.3L678.5 537.7L680.0 537.5L681.5 537.6L683.0 537.1L684.5 538.0L686.0 537.2L687.5 538.1L689.0 539.1L690.5 537.5L692.0 537.0L693.5 538.1L695.0 537.5L696.5 537.9L698.0 537.9L699.5 538.0L701.0 538.9L702.5 538.0L704.0 538.0L705.5 537.8L707.0 537.5L708.5 537.6L710.0 537.4L711.5 538.2L713.0 537.8L714.5 538.1L716.0 538.0L717.5 538.8L719.0 537.8L720.5 538.1L722.0 537.5L723.5 538.3L725.0 537.7L726.5 537.8L728.0 537.1L729.5 538.0L731.0 538.5L732.5 538.3L734.0 537.2L735.5 538.1L737.0 537.4L738.5 537.0L740.0 537.1L741.5 538.2L743.0 537.5L744.5 537.1L746.0 537.8L747.5 537.8L749.0 537.5L750.5 537.8L752.0 537.4L753.5 538.1L755.0 537.9L756.5 537.5L758.0 537.7L759.5 537.9L761.0 537.5L762.5 537.8L764.0 537.5L765.5 537.3L767.0 536.6L768.5 536.9L770.0 537.0L771.5 537.5L773.0 538.6L774.5 537.0L776.0 537.2L777.5 536.8L779.0 537.2L780.5 537.3L782.0 537.7L783.5 536.7L785.0 537.5L786.5 537.4L788.0 537.2L789.5 536.7L791.0 536.8L792.5 537.2L794.0 537.5L795.5 537.2L797.0 536.9L798.5 537.3L800.0 536.7L801.5 537.5L803.0 538.5L804.5 536.9L806.0 537.6L807.5 536.7L809.0 537.2L810.5 537.4L812.0 537.6L813.5 537.1L815.0 537.7L816.5 536.5L818.0 536.9L819.5 537.0L821.0 537.1L822.5 536.9L824.0 537.8L825.5 536.8L827.0 537.4L828.5 537.1L830.0 537.8L831.5 536.8L833.0 537.2L834.5 537.1L836.0 535.4L837.5 537.0L839.0 537.3L840.5 537.5L842.0 536.3L843.5 536.7L845.0 537.3L846.5 536.2L848.0 536.3L849.5 537.0L851.0 537.0L852.5 537.3L854.0 537.1L855.5 536.7L857.0 536.1L858.5 536.3L860.0 536.5L861.5 536.7L863.0 536.5L864.5 536.8L866.0 536.1L867.5 536.2L869.0 535.8L870.5 537.3L872.0 536.3L873.5 536.8L875.0 536.9L876.5 536.5L878.0 536.2L879.5 536.0L881.0 536.1L882.5 535.4L884.0 535.9L885.5 536.5L887.0 536.3L888.5 536.5L890.0 536.4L891.5 536.4L893.0 536.1L894.5 536.1L896.0 536.4L897.5 535.8L899.0 535.3L900.5 536.3L902.0 535.9L903.5 536.3L905.0 535.5L906.5 535.0L908.0 535.6L909.5 535.4L911.0 535.2L912.5 536.3L914.0 535.7L915.5 535.0L917.0 534.8L918.5 535.5L920.0 535.7L921.5 535.6L923.0 535.9L924.5 535.5L926.0 535.6L927.5 534.5L929.0 535.9L930.5 535.0L932.0 535.7L933.5 534.5L935.0 534.8L936.5 535.7L938.0 534.5L939.5 535.1L941.0 534.9L942.5 535.8L944.0 535.1L945.5 535.5L947.0 534.9L948.5 534.1L950.0 535.8L951.5 534.5L953.0 534.8L954.5 534.7L956.0 534.0L957.5 535.0L959.0 534.4L960.5 533.8L962.0 533.9L963.5 533.5L965.0 534.1L966.5 534.3L968.0 534.0L969.5 534.3L971.0 534.1L972.5 534.5L974.0 534.2L975.5 534.1L977.0 533.8L978.5 533.6L980.0 533.7L981.5 534.2L983.0 533.8L984.5 534.6L986.0 534.3L987.5 533.3L989.0 534.0L990.5 534.4L992.0 533.5L993.5 534.3L995.0 533.4L996.5 534.4L998.0 533.9L999.5 533.5L1001.0 532.8L1002.5 533.4L1004.0 533.1L1005.5 533.6L1007.0 533.0L1008.5 533.5L1010.0 533.1L1011.5 533.5L1013.0 533.6L1014.5 533.2L1016.0 533.4L1017.5 533.6L1019.0 532.6L1020.5 533.3L1022.0 533.1L1023.5 533.6L1025.0 532.8L1026.5 533.3L1028.0 532.0L1029.5 533.3L1031.0 532.9L1032.5 532.8L1034.0 533.0L1035.5 532.0L1037.0 532.4L1038.5 532.5L1040.0 532.3L1041.5 532.1L1043.0 532.7L1044.5 532.3L1046.0 532.1L1047.5 532.1L1049.0 532.7L1050.5 532.8L1052.0 532.4L1053.5 532.1L1055.0 531.2L1056.5 531.5L1058.0 531.2L1059.5 531.1L1061.0 532.0L1062.5 531.1L1064.0 531.9L1065.5 531.3L1067.0 531.0L1068.5 530.9L1070.0 530.2L1071.5 530.5L1073.0 530.9L1074.5 530.7L1076.0 530.3L1077.5 530.4L1079.0 530.0L1080.5 530.0L1082.0 530.7L1083.5 529.6L1085.0 528.7L1086.5 528.4L1088.0 528.9L1089.5 529.3L1091.0 529.5L1092.5 529.0L1094.0 528.9L1095.5 529.0L1097.0 528.2L1098.5 528.5L1100.0 528.6L1101.5 528.1L1103.0 527.7L1104.5 528.2L1106.0 528.3L1107.5 527.6L1109.0 526.2L1110.5 526.7L1112.0 526.5L1113.5 526.6L1115.0 525.9L1116.5 525.6L1118.0 525.9L1119.5 525.7L1121.0 524.8L1122.5 524.0L1124.0 523.6L1125.5 524.1L1127.0 523.1L1128.5 523.1L1130.0 522.7L1131.5 522.5L1133.0 522.2L1134.5 521.2L1136.0 520.9L1137.5 520.8L1139.0 520.3L1140.5 519.2L1142.0 520.1L1143.5 518.1L1145.0 518.6L1146.5 516.8L1148.0 517.3L1149.5 515.4L1151.0 515.8L1152.5 514.7L1154.0 514.1L1155.5 512.4L1157.0 511.6L1158.5 510.4L1160.0 509.2L1161.5 507.9L1163.0 508.0L1164.5 505.7L1166.0 505.1L1167.5 504.4L1169.0 504.9L1170.5 503.1L1172.0 502.4L1173.5 501.6L1175.0 501.0L1176.5 500.2L1178.0 499.1L1179.5 497.6L1181.0 497.3L1182.5 496.0L1184.0 495.7L1185.5 494.4L1187.0 493.5L1188.5 492.3L1190.0 492.4L1191.5 492.2L1193.0 492.2L1194.5 491.3L1196.0 491.2L1197.5 490.8L1199.0 491.0L1200.5 490.7L1202.0 490.2L1203.5 489.5L1205.0 491.0L1206.5 490.3L1208.0 489.9L1209.5 489.6L1211.0 489.5L1212.5 490.5L1214.0 490.5L1215.5 491.4L1217.0 492.8L1218.5 493.2L1220.0 494.6L1221.5 495.2L1223.0 496.0L1224.5 496.3L1226.0 498.0L1227.5 499.8L1229.0 500.2L1230.5 501.6L1232.0 502.6L1233.5 504.7L1235.0 505.8L1236.5 506.2L1238.0 507.7L1239.5 509.8L1241.0 510.7L1242.5 511.9L1244.0 513.5L1245.5 514.3L1247.0 515.1L1248.5 517.3L1250.0 517.0L1251.5 517.1L1253.0 518.7L1254.5 519.5L1256.0 520.9L1257.5 521.0L1259.0 521.3L1260.5 522.4L1262.0 522.4L1263.5 523.4L1265.0 524.4L1266.5 524.6L1268.0 524.7L1269.5 525.7L1271.0 526.4L1272.5 527.6L1274.0 527.7L1275.5 528.4L1277.0 528.5L1278.5 529.3L1280.0 529.4L1281.5 530.2L1283.0 530.4L1284.5 531.2L1286.0 531.1L1287.5 530.9L1289.0 530.9L1290.5 531.7L1292.0 532.1L1293.5 532.7L1295.0 531.9L1296.5 531.7L1298.0 531.7L1299.5 532.2L1301.0 532.7L1302.5 532.8L1304.0 532.9L1305.5 533.2L1307.0 533.4L1308.5 532.6L1310.0 533.5L1311.5 533.6L1313.0 533.7L1314.5 533.6L1316.0 533.1L1317.5 534.2L1319.0 533.9L1320.5 534.1L1322.0 534.4L1323.5 534.4L1325.0 534.6L1326.5 534.7L1328.0 534.1L1329.5 534.1L1331.0 535.1L1332.5 534.4L1334.0 535.8L1335.5 534.3L1337.0 534.9L1338.5 534.9L1340.0 535.1L1341.5 534.6L1343.0 535.2L1344.5 536.0L1346.0 534.9L1347.5 534.2L1349.0 535.5L1350.5 535.4L1352.0 535.6L1353.5 534.9L1355.0 535.5L1356.5 535.7L1358.0 535.2L1359.5 535.4L1361.0 535.7L1362.5 535.8L1364.0 535.4L1365.5 535.6L1367.0 536.4L1368.5 536.5L1370.0 535.1L1371.5 536.6L1373.0 535.5L1374.5 536.1L1376.0 535.1L1377.5 535.6L1379.0 535.4L1380.5 536.1L1382.0 535.9L1383.5 536.0L1385.0 536.0L1386.5 535.9L1388.0 536.3L1389.5 535.9L1391.0 535.9L1392.5 535.6L1394.0 535.5L1395.5 535.7L1397.0 536.1L1398.5 536.5L1400.0 536.0L1401.5 536.9L1403.0 536.6L1404.5 536.1L1406.0 536.3L1407.5 536.1L1409.0 535.3L1410.5 536.5L1412.0 536.3L1413.5 535.4L1415.0 536.6L1416.5 536.0L1418.0 536.1L1419.5 535.5L1421.0 536.3L1422.5 536.5L1424.0 536.1L1425.5 536.3L1427.0 535.5L1428.5 536.6L1430.0 536.3L1431.5 536.4L1433.0 536.7L1434.5 536.9L1436.0 536.4L1437.5 536.8L1439.0 537.3L1440.5 536.0L1442.0 536.5L1443.5 535.8L1445.0 536.7L1446.5 537.1L1448.0 536.5L1449.5 536.0L1451.0 536.3L1452.5 536.7L1454.0 535.9L1455.5 535.9L1457.0 536.8L1458.5 536.0L1460.0 536.7L1461.5 536.2L1463.0 535.9L1464.5 537.0L1466.0 537.2L1467.5 536.3L1469.0 537.7L1470.5 536.8L1472.0 537.0L1473.5 536.8L1475.0 536.3L1476.5 537.2L1478.0 536.8L1479.5 537.0L1481.0 536.9L1482.5 536.6L1484.0 537.9L1485.5 537.0L1487.0 536.7L1488.5 537.2L1490.0 536.3L1491.5 537.0L1493.0 538.1L1494.5 536.6L1496.0 537.1L1497.5 536.4L1499.0 536.9L1500.5 537.4L1502.0 536.5L1503.5 536.5L1505.0 537.5L1506.5 537.1L1508.0 537.3L1509.5 537.2L1511.0 536.4L1512.5 536.2L1514.0 536.2L1515.5 537.2L1517.0 536.4L1518.5 536.2L1520.0 536.8L1521.5 537.0L1523.0 537.2L1524.5 536.3L1526.0 537.7L1527.5 536.7L1529.0 537.2L1530.5 537.1L1532.0 536.7L1533.5 537.3L1535.0 537.3L1536.5 537.7L1538.0 538.0L1539.5 538.1L1541.0 537.6L1542.5 537.5L1544.0 537.0L1545.5 536.5L1547.0 537.4L1548.5 537.0L1550.0 537.1L1551.5 537.0L1553.0 537.4L1554.5 537.1L1556.0 538.3L1557.5 537.7L1559.0 537.0L1560.5 537.5L1562.0 537.9L1563.5 536.8L1565.0 537.4L1566.5 537.1L1568.0 537.4L1569.5 537.1L1571.0 537.4L1572.5 537.6L1574.0 537.6L1575.5 536.7L1577.0 537.7L1578.5 537.4L1580.0 537.1L1581.5 537.4L1583.0 538.1L1584.5 537.3L1586.0 537.0L1587.5 537.7L1589.0 537.3L1590.5 537.8L1592.0 537.6L1593.5 538.1L1595.0 537.2L1596.5 537.3L1598.0 538.0L1599.5 538.3L1601.0 537.6L1602.5 538.1L1604.0 537.7L1605.5 537.5L1607.0 536.8L1608.5 538.5L1610.0 538.1L1611.5 536.5L1613.0 537.9L1614.5 537.3L1616.0 537.1L1617.5 537.3L1619.0 537.9L1620.5 537.6L1622.0 537.5L1623.5 537.5L1625.0 537.4L1626.5 537.9L1628.0 536.7L1629.5 537.0L1631.0 537.6L1632.5 537.1L1634.0 537.7L1635.5 537.5L1637.0 537.8L1638.5 537.6L1640.0 538.0L1641.5 537.7L1643.0 538.0L1644.5 537.5L1646.0 536.9L1647.5 537.7L1649.0 537.7L1650.5 537.5L1652.0 538.2L1653.5 538.0L1655.0 538.5L1656.5 537.6L1658.0 537.6L1659.5 538.0L1661.0 538.5L1662.5 537.5L1664.0 538.1L1665.5 537.8L1667.0 537.7L1668.5 538.3L1670.0 538.3L1671.5 538.2L1673.0 537.6L1674.5 537.9L1676.0 537.1L1677.5 538.1L1679.0 537.3L1680.5 537.8L1682.0 538.3L1683.5 537.8L1685.0 538.0L1686.5 537.6L1688.0 539.1L1689.5 537.4L1691.0 537.7L1692.5 537.9L1694.0 539.2L1695.5 537.8L1697.0 538.0L1698.5 538.4L1700.0 537.1L1701.5 538.5L1703.0 538.2L1704.5 538.8L1706.0 538.8L1707.5 538.3L1709.0 538.6L1710.5 537.8L1712.0 537.6L1713.5 538.0L1715.0 538.2L1716.5 538.0L1718.0 538.4L1719.5 538.5L1721.0 539.0L1722.5 538.1L1724.0 538.0L1725.5 538.4L1727.0 538.3L1728.5 538.5L1730.0 539.0L1731.5 537.9L1733.0 538.6L1734.5 538.9L1736.0 538.9L1737.5 537.6L1739.0 538.2L1740.5 538.9L1742.0 538.3L1743.5 538.5L1745.0 538.3L1746.5 538.9L1748.0 538.5L1749.5 538.2L1751.0 538.4L1752.5 539.0L1754.0 538.6L1755.5 537.6L1757.0 537.4L1758.5 538.7L1760.0 537.6L1761.5 538.5L1763.0 538.1L1764.5 538.5L1766.0 538.1L1767.5 537.3L1769.0 539.0L1770.5 538.4L1772.0 538.3L1773.5 539.1L1775.0 538.7L1776.5 538.9L1778.0 538.3L1779.5 538.5L1781.0 538.7L1782.5 538.2L1784.0 538.8L1785.5 538.7L1787.0 538.3L1788.5 538.3L1790.0 538.9L1791.5 538.4L1793.0 538.7L1794.5 538.7L1796.0 538.4L1797.5 537.1L1799.0 538.7L1800.5 538.9L1802.0 538.3L1803.5 538.3L1805.0 539.0L1806.5 538.0L1808.0 539.2L1809.5 538.9L1811.0 539.2L1812.5 538.6L1814.0 538.7L1815.5 538.8L1817.0 538.0L1818.5 538.3L1820.0 539.2L1821.5 538.4L1823.0 538.2L1824.5 538.8L1826.0 539.3L1827.5 538.7L1829.0 538.6L1830.5 538.7L1832.0 538.9L1833.5 538.0L1835.0 538.9L1836.5 538.9L1838.0 539.2L1839.5 539.3L1841.0 539.1L1842.5 539.7L1844.0 538.8L1845.5 538.8L1847.0 539.6L1848.5 538.9L1850.0 538.6L1851.5 538.6L1853.0 538.8L1854.5 538.3L1856.0 539.3L1857.5 539.0L1859.0 539.5L1860.5 538.4L1862.0 538.7L1863.5 538.6L1865.0 539.2L1866.5 539.1L1868.0 539.3L1869.5 539.3L1871.0 538.5L1872.5 539.1L1874.0 539.0L1875.5 539.0L1877.0 539.2L1878.5 538.1L1880.0 538.7L1881.5 538.9L1883.0 538.6L1884.5 538.5L1886.0 539.4L1887.5 539.4L1889.0 539.8L1890.5 538.6L1892.0 538.0L1893.5 539.3L1895.0 538.9L1896.5 538.6L1898.0 539.3L1899.5 539.0L1901.0 538.3L1902.5 539.1L1904.0 538.3L1905.5 539.3" stroke="#c571e2"/>
<path d="M141.5 337.7L143.0 337.6L144.5 338.6L146.0 338.7L147.5 338.2L149.0 337.8L150.5 338.5L152.0 338.3L153.5 338.4L155.0 338.1L156.5 337.6L158.0 338.1L159.5 338.9L161.0 338.0L162.5 338.2L164.0 338.2L165.5 338.7L167.0 338.4L168.5 338.1L170.0 339.1L171.5 338.4L173.0 338.4L174.5 338.0L176.0 337.6L177.5 338.5L179.0 338.1L180.5 338.4L182.0 337.3L183.5 339.0L185.0 338.3L186.5 338.6L188.0 337.8L189.5 338.3L191.0 338.3L192.5 338.8L194.0 338.6L195.5 337.4L197.0 338.4L198.5 338.3L200.0 338.1L201.5 338.4L203.0 338.5L204.5 338.7L206.0 337.8L207.5 337.9L209.0 338.3L210.5 338.6L212.0 337.9L213.5 338.3L215.0 337.7L216.5 338.3L218.0 338.2L219.5 338.5L221.0 338.9L222.5 337.9L224.0 338.5L225.5 337.6L227.0 338.4L228.5 339.1L230.0 337.6L231.5 338.1L233.0 336.9L234.5 338.5L236.0 339.3L237.5 337.9L239.0 338.4L240.5 338.9L242.0 337.9L243.5 338.4L245.0 338.0L246.5 338.1L248.0 338.3L249.5 338.7L251.0 338.4L252.5 338.3L254.0 338.2L255.5 338.8L257.0 338.5L258.5 338.5L260.0 337.4L261.5 338.2L263.0 337.8L264.5 339.0L266.0 338.5L267.5 338.8L269.0 337.8L270.5 337.5L272.0 337.8L273.5 338.4L275.0 337.8L276.5 338.4L278.0 338.7L279.5 337.9L281.0 338.5L282.5 337.0L284.0 337.4L285.5 337.7L287.0 337.7L288.5 337.2L290.0 337.7L291.5 338.3L293.0 338.2L294.5 337.9L296.0 337.3L297.5 338.3L299.0 337.9L300.5 337.1L302.0 338.0L303.5 337.4L305.0 337.7L306.5 337.6L308.0 337.6L309.5 337.9L311.0 338.3L312.5 337.3L314.0 337.1L315.5 336.9L317.0 337.0L318.5 337.0L320.0 336.0L321.5 336.5L323.0 337.4L324.5 336.6L326.0 336.6L327.5 336.0L329.0 336.8L330.5 336.0L332.0 335.4L333.5 335.0L335.0 335.4L336.5 335.8L338.0 334.5L339.5 334.2L341.0 333.4L342.5 334.5L344.0 333.5L345.5 333.4L347.0 333.1L348.5 332.9L350.0 333.4L351.5 332.5L353.0 332.7L354.5 332.0L356.0 332.0L357.5 332.2L359.0 331.9L360.5 330.8L362.0 331.1L363.5 330.4L365.0 330.9L366.5 330.0L368.0 329.6L369.5 330.1L371.0 329.2L372.5 329.2L374.0 329.1L375.5 328.3L377.0 328.1L378.5 328.1L380.0 328.6L381.5 327.4L383.0 327.2L384.5 326.5L386.0 326.1L387.5 326.4L389.0 325.0L390.5 324.6L392.0 325.3L393.5 323.9L395.0 323.3L396.5 323.8L398.0 323.7L399.5 323.8L401.0 323.7L402.5 321.5L404.0 322.1L405.5 321.8L407.0 321.8L408.5 321.0L410.0 321.2L411.5 321.1L413.0 320.8L414.5 320.2L416.0 320.6L417.5 320.0L419.0 320.0L420.5 320.5L422.0 321.2L423.5 320.3L425.0 321.6L426.5 322.7L428.0 322.6L429.5 322.7L431.0 323.5L432.5 324.6L434.0 324.3L435.5 324.6L437.0 325.8L438.5 325.8L440.0 326.2L441.5 327.4L443.0 327.1L444.5 327.7L446.0 328.9L447.5 328.7L449.0 329.6L450.5 328.5L452.0 329.0L453.5 329.6L455.0 330.3L456.5 329.8L458.0 331.0L459.5 330.9L461.0 331.2L462.5 331.7L464.0 331.8L465.5 331.6L467.0 332.3L468.5 332.1L470.0 333.4L471.5 332.8L473.0 333.1L474.5 333.2L476.0 333.7L477.5 334.0L479.0 334.0L480.5 333.7L482.0 334.9L483.5 334.6L485.0 333.9L486.5 333.9L488.0 334.5L489.5 334.7L491.0 334.6L492.5 335.0L494.0 335.7L495.5 336.3L497.0 335.9L498.5 336.1L500.0 336.5L501.5 337.1L503.0 336.7L504.5 336.5L506.0 336.2L507.5 335.9L509.0 336.6L510.5 337.0L512.0 336.7L513.5 336.4L515.0 336.9L516.5 336.7L518.0 336.5L519.5 335.9L521.0 337.1L522.5 336.6L524.0 337.5L525.5 336.7L527.0 337.1L528.5 336.8L530.0 337.9L531.5 337.8L533.0 337.2L534.5 337.9L536.0 336.7L537.5 337.6L539.0 337.1L540.5 337.3L542.0 337.2L543.5 337.8L545.0 336.7L546.5 337.4L548.0 338.3L549.5 336.6L551.0 337.6L552.5 337.2L554.0 336.6L555.5 338.0L557.0 337.7L558.5 338.5L560.0 337.1L561.5 338.2L563.0 338.8L564.5 337.3L566.0 338.4L567.5 338.5L569.0 338.3L570.5 338.9L572.0 338.6L573.5 337.9L575.0 337.9L576.5 338.2L578.0 339.1L579.5 338.2L581.0 338.7L582.5 338.2L584.0 338.6L585.5 338.6L587.0 338.9L588.5 339.1L590.0 338.1L591.5 337.8L593.0 338.3L594.5 338.3L596.0 338.4L597.5 338.8L599.0 338.1L600.5 338.3L602.0 338.3L603.5 338.8L605.0 338.1L606.5 338.9L608.0 339.2L609.5 338.2L611.0 339.0L612.5 338.6L614.0 338.3L615.5 339.2L617.0 338.9L618.5 338.2L620.0 338.6L621.5 338.0L623.0 337.7L624.5 338.8L626.0 338.3L627.5 339.1L629.0 338.4L630.5 338.4L632.0 338.3L633.5 338.4L635.0 338.0L636.5 338.2L638.0 337.5L639.5 337.5L641.0 337.7L642.5 338.0L644.0 338.3L645.5 338.2L647.0 338.8L648.5 339.4L650.0 337.2L651.5 338.9L653.0 338.7L654.5 338.0L656.0 338.3L657.5 337.4L659.0 338.2L660.5 339.0L662.0 337.7L663.5 338.0L665.0 338.3L666.5 338.6L668.0 338.3L669.5 338.0L671.0 338.5L672.5 338.0L674.0 339.3L675.5 338.8L677.0 338.3L678.5 337.9L680.0 338.0L681.5 337.9L683.0 338.1L684.5 338.4L686.0 337.6L687.5 338.3L689.0 338.2L690.5 337.8L692.0 338.8L693.5 338.4L695.0 338.3L696.5 337.9L698.0 337.8L699.5 338.2L701.0 337.5L702.5 338.3L704.0 337.7L705.5 338.2L707.0 338.5L708.5 338.0L710.0 337.9L711.5 337.8L713.0 338.2L714.5 337.6L716.0 338.1L717.5 338.6L719.0 337.3L720.5 337.8L722.0 338.2L723.5 337.6L725.0 337.6L726.5 337.5L728.0 338.5L729.5 337.1L731.0 338.0L732.5 338.0L734.0 338.1L735.5 337.7L737.0 338.1L738.5 337.8L740.0 337.7L741.5 339.2L743.0 338.5L744.5 337.5L746.0 337.7L747.5 338.2L749.0 338.7L750.5 337.9L752.0 338.3L753.5 338.1L755.0 338.5L756.5 337.8L758.0 337.7L759.5 338.1L761.0 338.1L762.5 338.0L764.0 338.5L765.5 338.3L767.0 338.0L768.5 337.4L770.0 338.3L771.5 338.4L773.0 337.7L774.5 337.9L776.0 337.5L777.5 338.0L779.0 337.8L780.5 337.1L782.0 337.9L783.5 337.8L785.0 337.8L786.5 338.4L788.0 338.1L789.5 338.3L791.0 337.8L792.5 338.5L794.0 337.6L795.5 338.2L797.0 337.2L798.5 338.0L800.0 337.4L801.5 337.2L803.0 338.2L804.5 338.0L806.0 338.1L807.5 337.9L809.0 338.0L810.5 337.8L812.0 337.8L813.5 337.9L815.0 338.9L816.5 337.4L818.0 337.2L819.5 337.4L821.0 337.5L822.5 338.1L824.0 338.3L825.5 338.3L827.0 337.7L828.5 338.1L830.0 338.6L831.5 338.1L833.0 338.4L834.5 337.3L836.0 338.2L837.5 338.1L839.0 337.2L840.5 337.8L842.0 338.0L843.5 337.3L845.0 338.1L846.5 338.1L848.0 337.8L849.5 337.6L851.0 337.6L852.5 337.8L854.0 338.2L855.5 337.0L857.0 337.7L858.5 337.7L860.0 337.2L861.5 337.0L863.0 337.5L864.5 336.8L866.0 337.7L867.5 337.4L869.0 337.0L870.5 337.5L872.0 337.1L873.5 337.2L875.0 338.0L876.5 337.1L878.0 336.3L879.5 337.6L881.0 337.0L882.5 337.0L884.0 338.1L885.5 337.4L887.0 337.7L888.5 336.7L890.0 336.9L891.5 336.9L893.0 337.6L894.5 337.0L896.0 336.4L897.5 337.6L899.0 337.0L900.5 337.3L902.0 337.6L903.5 338.2L905.0 337.2L906.5 337.9L908.0 336.6L909.5 337.2L911.0 337.3L912.5 336.1L914.0 336.7L915.5 336.8L917.0 337.3L918.5 336.9L920.0 336.9L921.5 336.7L923.0 337.2L924.5 337.0L926.0 337.0L927.5 336.9L929.0 337.3L930.5 336.6L932.0 336.9L933.5 336.9L935.0 337.1L936.5 337.4L938.0 337.1L939.5 336.3L941.0 337.3L942.5 337.4L944.0 337.4L945.5 337.2L947.0 336.1L948.5 336.8L950.0 337.2L951.5 337.2L953.0 336.7L954.5 336.8L956.0 336.3L957.5 336.9L959.0 335.8L960.5 336.6L962.0 337.1L963.5 336.1L965.0 337.2L966.5 337.5L968.0 336.9L969.5 336.4L971.0 336.4L972.5 336.1L974.0 336.9L975.5 336.1L977.0 336.6L978.5 336.0L980.0 336.8L981.5 335.9L983.0 336.4L984.5 336.2L986.0 336.9L987.5 336.3L989.0 336.4L990.5 336.9L992.0 335.9L993.5 335.8L995.0 336.3L996.5 335.9L998.0 337.1L999.5 336.4L1001.0 336.4L1002.5 336.1L1004.0 334.9L1005.5 336.8L1007.0 336.2L1008.5 335.3L1010.0 335.7L1011.5 336.2L1013.0 336.7L1014.5 336.3L1016.0 336.3L1017.5 336.3L1019.0 335.7L1020.5 335.8L1022.0 336.1L1023.5 335.5L1025.0 336.1L1026.5 336.4L1028.0 335.0L1029.5 335.9L1031.0 335.9L1032.5 336.1L1034.0 336.8L1035.5 335.4L1037.0 336.9L1038.5 336.3L1040.0 337.1L1041.5 335.8L1043.0 336.1L1044.5 335.9L1046.0 336.1L1047.5 335.5L1049.0 335.5L1050.5 335.8L1052.0 336.1L1053.5 335.3L1055.0 335.7L1056.5 335.5L1058.0 335.9L1059.5 336.2L1061.0 335.1L1062.5 335.3L1064.0 335.6L1065.5 335.3L1067.0 336.4L1068.5 336.5L1070.0 336.0L1071.5 335.9L1073.0 335.2L1074.5 335.2L1076.0 335.8L1077.5 336.3L1079.0 335.4L1080.5 335.7L1082.0 336.3L1083.5 336.3L1085.0 335.1L1086.5 335.6L1088.0 335.8L1089.5 334.7L1091.0 335.2L1092.5 335.5L1094.0 335.2L1095.5 335.6L1097.0 335.2L1098.5 334.5L1100.0 334.7L1101.5 334.3L1103.0 334.6L1104.5 335.5L1106.0 335.3L1107.5 335.4L1109.0 335.7L1110.5 334.5L1112.0 334.8L1113.5 335.0L1115.0 335.7L1116.5 335.0L1118.0 334.8L1119.5 334.9L1121.0 334.3L1122.5 333.8L1124.0 334.9L1125.5 334.4L1127.0 334.7L1128.5 333.9L1130.0 334.0L1131.5 334.7L1133.0 334.3L1134.5 334.6L1136.0 333.8L1137.5 334.0L1139.0 334.2L1140.5 334.1L1142.0 333.6L1143.5 333.5L1145.0 333.2L1146.5 333.0L1148.0 332.8L1149.5 332.8L1151.0 331.8L1152.5 332.2L1154.0 331.5L1155.5 331.8L1157.0 331.4L1158.5 331.4L1160.0 331.0L1161.5 330.9L1163.0 330.1L1164.5 331.2L1166.0 329.7L1167.5 329.3L1169.0 330.1L1170.5 330.0L1172.0 329.5L1173.5 329.1L1175.0 328.6L1176.5 329.7L1178.0 327.9L1179.5 329.6L1181.0 327.6L1182.5 327.7L1184.0 327.9L1185.5 327.7L1187.0 327.9L1188.5 327.2L1190.0 327.3L1191.5 326.5L1193.0 327.6L1194.5 326.8L1196.0 326.5L1197.5 326.8L1199.0 327.1L1200.5 326.8L1202.0 326.2L1203.5 326.6L1205.0 326.8L1206.5 326.9L1208.0 326.7L1209.5 327.2L1211.0 326.6L1212.5 327.3L1214.0 327.1L1215.5 327.6L1217.0 327.5L1218.5 328.3L1220.0 328.0L1221.5 329.0L1223.0 328.3L1224.5 329.4L1226.0 328.8L1227.5 328.4L1229.0 329.3L1230.5 330.4L1232.0 330.4L1233.5 330.7L1235.0 330.6L1236.5 331.2L1238.0 330.8L1239.5 332.3L1241.0 332.6L1242.5 332.3L1244.0 332.1L1245.5 332.3L1247.0 333.1L1248.5 333.3L1250.0 332.9L1251.5 333.8L1253.0 334.1L1254.5 334.1L1256.0 334.2L1257.5 334.3L1259.0 334.4L1260.5 334.4L1262.0 334.4L1263.5 335.4L1265.0 334.3L1266.5 335.1L1268.0 335.5L1269.5 336.2L1271.0 335.1L1272.5 335.9L1274.0 335.9L1275.5 335.8L1277.0 336.2L1278.5 334.7L1280.0 335.9L1281.5 335.4L1283.0 335.7L1284.5 335.4L1286.0 335.1L1287.5 334.7L1289.0 335.7L1290.5 335.5L1292.0 335.0L1293.5 335.6L1295.0 335.2L1296.5 335.3L1298.0 335.8L1299.5 336.1L1301.0 335.0L1302.5 335.8L1304.0 336.2L1305.5 335.4L1307.0 335.9L1308.5 336.3L1310.0 336.6L1311.5 335.7L1313.0 335.6L1314.5 336.1L1316.0 336.2L1317.5 336.5L1319.0 336.6L1320.5 335.8L1322.0 337.0L1323.5 336.0L1325.0 337.0L1326.5 337.1L1328.0 337.1L1329.5 337.1L1331.0 337.2L1332.5 336.7L1334.0 336.7L1335.5 338.1L1337.0 337.9L1338.5 337.8L1340.0 337.6L1341.5 336.5L1343.0 338.1L1344.5 337.1L1346.0 337.2L1347.5 337.6L1349.0 337.0L1350.5 337.9L1352.0 336.2L1353.5 337.9L1355.0 337.6L1356.5 337.0L1358.0 337.7L1359.5 337.9L1361.0 337.7L1362.5 337.8L1364.0 337.3L1365.5 337.9L1367.0 337.9L1368.5 338.0L1370.0 337.7L1371.5 336.7L1373.0 337.7L1374.5 336.9L1376.0 337.1L1377.5 337.4L1379.0 337.6L1380.5 337.3L1382.0 337.6L1383.5 337.7L1385.0 337.6L1386.5 337.5L1388.0 337.7L1389.5 337.8L1391.0 337.1L1392.5 336.8L1394.0 338.0L1395.5 337.6L1397.0 336.5L1398.5 338.0L1400.0 338.1L1401.5 336.7L1403.0 337.0L1404.5 337.3L1406.0 337.0L1407.5 337.3L1409.0 337.5L1410.5 338.0L1412.0 336.5L1413.5 337.6L1415.0 338.1L1416.5 336.5L1418.0 337.8L1419.5 337.6L1421.0 337.4L1422.5 338.0L1424.0 338.2L1425.5 338.1L1427.0 338.6L1428.5 337.3L1430.0 336.7L1431.5 337.4L1433.0 337.7L1434.5 338.2L1436.0 337.9L1437.5 337.4L1439.0 338.3L1440.5 337.9L1442.0 337.8L1443.5 337.6L1445.0 337.9L1446.5 338.0L1448.0 337.7L1449.5 336.6L1451.0 337.3L1452.5 337.9L1454.0 338.5L1455.5 338.3L1457.0 338.3L1458.5 338.6L1460.0 338.1L1461.5 338.4L1463.0 338.3L1464.5 337.9L1466.0 337.4L1467.5 337.1L1469.0 338.0L1470.5 337.3L1472.0 337.8L1473.5 338.2L1475.0 337.5L1476.5 338.3L1478.0 337.9L1479.5 337.5L1481.0 338.1L1482.5 338.2L1484.0 337.7L1485.5 338.1L1487.0 337.4L1488.5 338.0L1490.0 338.1L1491.5 337.4L1493.0 338.0L1494.5 338.6L1496.0 337.6L1497.5 337.4L1499.0 337.3L1500.5 337.6L1502.0 337.5L1503.5 337.2L1505.0 338.0L1506.5 338.1L1508.0 337.5L1509.5 338.0L1511.0 338.4L1512.5 338.2L1514.0 338.1L1515.5 338.3L1517.0 337.7L1518.5 338.4L1520.0 338.9L1521.5 337.7L1523.0 337.2L1524.5 337.7L1526.0 337.6L1527.5 338.2L1529.0 338.6L1530.5 338.3L1532.0 338.9L1533.5 338.3L1535.0 338.1L1536.5 337.2L1538.0 338.3L1539.5 337.8L1541.0 337.9L1542.5 338.0L1544.0 338.9L1545.5 338.5L1547.0 338.1L1548.5 337.5L1550.0 337.9L1551.5 338.0L1553.0 338.5L1554.5 338.4L1556.0 338.4L1557.5 337.7L1559.0 338.6L1560.5 339.4L1562.0 337.5L1563.5 337.7L1565.0 338.2L1566.5 338.6L1568.0 338.3L1569.5 338.2L1571.0 338.9L1572.5 337.7L1574.0 337.2L1575.5 337.5L1577.0 338.6L1578.5 338.6L1580.0 338.0L1581.5 337.5L1583.0 337.8L1584.5 338.4L1586.0 338.6L1587.5 337.9L1589.0 337.8L1590.5 337.8L1592.0 337.9L1593.5 338.5L1595.0 338.3L1596.5 338.4L1598.0 338.3L1599.5 338.3L1601.0 337.6L1602.5 337.7L1604.0 338.4L1605.5 338.4L1607.0 338.7L1608.5 338.2L1610.0 337.8L1611.5 338.2L1613.0 338.1L1614.5 338.5L1616.0 338.2L1617.5 338.5L1619.0 338.5L1620.5 338.5L1622.0 338.6L1623.5 337.8L1625.0 338.8L1626.5 339.1L1628.0 338.7L1629.5 339.1L1631.0 338.6L1632.5 338.1L1634.0 338.6L1635.5 338.4L1637.0 338.3L1638.5 339.1L1640.0 338.0L1641.5 338.9L1643.0 338.2L1644.5 337.6L1646.0 338.8L1647.5 338.5L1649.0 338.5L1650.5 338.6L1652.0 338.9L1653.5 338.6L1655.0 338.4L1656.5 338.4L1658.0 338.7L1659.5 338.2L1661.0 338.7L1662.5 337.6L1664.0 338.5L1665.5 338.5L1667.0 338.8L1668.5 338.0L1670.0 338.4L1671.5 338.7L1673.0 339.8L1674.5 338.6L1676.0 338.8L1677.5 338.3L1679.0 339.5L1680.5 338.5L1682.0 338.4L1683.5 338.6L1685.0 338.0L1686.5 338.1L1688.0 338.4L1689.5 338.2L1691.0 339.0L1692.5 338.3L1694.0 339.6L1695.5 338.7L1697.0 338.2L1698.5 338.7L1700.0 338.9L1701.5 338.6L1703.0 338.8L1704.5 338.5L1706.0 338.2L1707.5 338.5L1709.0 339.4L1710.5 338.4L1712.0 338.6L1713.5 337.9L1715.0 338.3L1716.5 338.7L1718.0 338.5L1719.5 339.1L1721.0 339.0L1722.5 338.4L1724.0 338.6L1725.5 338.9L1727.0 338.8L1728.5 338.5L1730.0 337.8L1731.5 339.2L1733.0 338.7L1734.5 338.7L1736.0 338.3L1737.5 339.3L1739.0 338.6L1740.5 338.7L1742.0 337.8L1743.5 338.5L1745.0 338.6L1746.5 338.8L1748.0 339.0L1749.5 338.6L1751.0 339.1L1752.5 338.6L1754.0 338.6L1755.5 338.7L1757.0 337.9L1758.5 337.7L1760.0 339.5L1761.5 337.9L1763.0 338.4L1764.5 339.0L1766.0 338.4L1767.5 339.2L1769.0 337.8L1770.5 338.8L1772.0 339.0L1773.5 339.7L1775.0 339.4L1776.5 338.4L1778.0 339.1L1779.5 338.9L1781.0 338.2L1782.5 338.5L1784.0 339.2L1785.5 338.6L1787.0 338.3L1788.5 338.5L1790.0 338.2L1791.5 338.1L1793.0 338.9L1794.5 339.0L1796.0 339.2L1797.5 338.1L1799.0 338.3L1800.5 339.0L1802.0 338.9L1803.5 338.7L1805.0 338.3L1806.5 338.7L1808.0 338.2L1809.5 339.5L1811.0 339.1L1812.5 338.4L1814.0 339.4L1815.5 338.4L1817.0 339.1L1818.5 338.9L1820.0 338.6L1821.5 339.4L1823.0 338.1L1824.5 338.7L1826.0 338.7L1827.5 338.1L1829.0 338.2L1830.5 338.9L1832.0 339.0L1833.5 338.4L1835.0 339.1L1836.5 339.1L1838.0 339.2L1839.5 338.8L1841.0 338.8L1842.5 339.2L1844.0 338.6L1845.5 338.5L1847.0 338.4L1848.5 339.1L1850.0 339.5L1851.5 338.1L1853.0 338.8L1854.5 339.3L1856.0 339.6L1857.5 339.1L1859.0 338.6L1860.5 339.3L1862.0 340.0L1863.5 339.2L1865.0 339.3L1866.5 339.8L1868.0 338.4L1869.5 339.4L1871.0 339.7L1872.5 339.5L1874.0 339.1L1875.5 338.9L1877.0 338.8L1878.5 338.5L1880.0 338.9L1881.5 338.6L1883.0 339.0L1884.5 339.0L1886.0 338.8L1887.5 338.9L1889.0 339.1L1890.5 338.6L1892.0 339.4L1893.5 339.2L1895.0 339.4L1896.5 339.0L1898.0 339.0L1899.5 339.2L1901.0 339.2L1902.5 339.0L1904.0 339.0L1905.5 338.9" stroke="#de9e00"/>
</g>
<g stroke="#000" stroke-width="10.2">
<line x1="393.9" y1="1446.8" x2="393.9" y2="1471" />
<line x1="645.9" y1="1446.8" x2="645.9" y2="1471" />
<line x1="897.8" y1="1446.8" x2="897.8" y2="1471" />
<line x1="1149.7" y1="1446.8" x2="1149.7" y2="1471" />
<line x1="1401.6" y1="1446.8" x2="1401.6" y2="1471" />
<line x1="1653.6" y1="1446.8" x2="1653.6" y2="1471" />
<line x1="268.0" y1="1460.6" x2="268.0" y2="1471" />
<line x1="519.9" y1="1460.6" x2="519.9" y2="1471" />
<line x1="771.8" y1="1460.6" x2="771.8" y2="1471" />
<line x1="1023.8" y1="1460.6" x2="1023.8" y2="1471" />
<line x1="1275.7" y1="1460.6" x2="1275.7" y2="1471" />
<line x1="1527.6" y1="1460.6" x2="1527.6" y2="1471" />
<line x1="1779.5" y1="1460.6" x2="1779.5" y2="1471" />
</g>
<g font-size="77" text-anchor="middle">
<text x="142.0" y="1562.8">5</text>
<text x="393.9" y="1562.8">10</text>
<text x="645.9" y="1562.8">15</text>
<text x="897.8" y="1562.8">20</text>
<text x="1149.7" y="1562.8">25</text>
<text x="1401.6" y="1562.8">30</text>
<text x="1653.6" y="1562.8">35</text>
<text x="1905.5" y="1562.8">40</text>
</g>
<g font-size="75">
<text x="1342.9" y="292.5" textLength="545.8" lengthAdjust="spacingAndGlyphs">GO-KH550-CNT</text>
<text x="1345.3" y="490.5" textLength="410.1" lengthAdjust="spacingAndGlyphs">CNT-KH550</text>
<text x="1348.2" y="686.0" textLength="155.3" lengthAdjust="spacingAndGlyphs">CNT</text>
<text x="1346.9" y="894.5" textLength="529.4" lengthAdjust="spacingAndGlyphs">Unoxidized CNT</text>
<text x="1345.5" y="1083.6" textLength="118.7" lengthAdjust="spacingAndGlyphs">GO</text>
<text x="1344.0" y="1285.2" textLength="291.7" lengthAdjust="spacingAndGlyphs">Graphite</text>
</g>
<text font-size="75" x="855" y="1643">2<tspan class="r">θ(</tspan>degree<tspan class="r">)</tspan></text>
<text font-size="74" transform="translate(84.6 942) rotate(-90)" x="0" y="0">Intensity<tspan class="r">(</tspan>a.u.<tspan class="r">)</tspan></text>
</g>
</svg>
</body></html>
